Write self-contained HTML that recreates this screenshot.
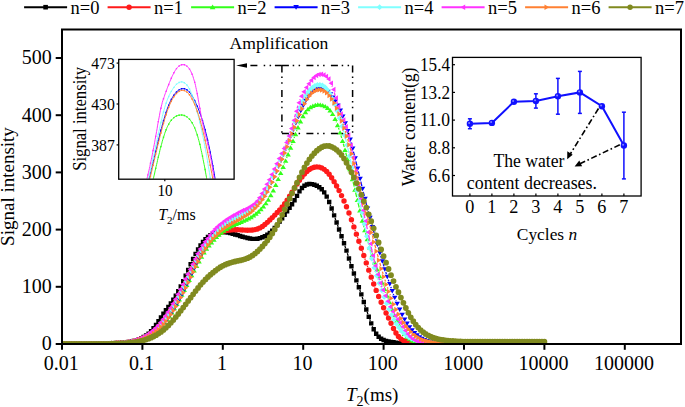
<!DOCTYPE html>
<html><head><meta charset="utf-8"><style>
html,body{margin:0;padding:0;background:#fff;overflow:hidden;width:685px;height:407px;}
svg{display:block;font-family:"Liberation Serif",serif;}
</style></head><body>
<svg width="685" height="407" viewBox="0 0 685 407">
<rect width="685" height="407" fill="#fff"/>
<g><line x1="24.1" y1="7.2" x2="67.1" y2="7.2" stroke="#000000" stroke-width="2"/><rect x="43.3" y="4.9" width="4.6" height="4.6" fill="#000000"/><text x="70.6" y="14" font-size="18.5">n=0</text><line x1="107.6" y1="7.2" x2="150.6" y2="7.2" stroke="#ff1a1a" stroke-width="2"/><circle cx="129.1" cy="7.2" r="2.7" fill="#ff1a1a"/><text x="154.1" y="14" font-size="18.5">n=1</text><line x1="191.1" y1="7.2" x2="234.1" y2="7.2" stroke="#33ff1a" stroke-width="2"/><path d="M212.6 4.6L215.4 9.3L209.8 9.3z" fill="#33ff1a"/><text x="237.6" y="14" font-size="18.5">n=2</text><line x1="274.6" y1="7.2" x2="317.6" y2="7.2" stroke="#0000ff" stroke-width="2"/><path d="M296.1 9.8L298.9 5.1L293.3 5.1z" fill="#0000ff"/><text x="321.1" y="14" font-size="18.5">n=3</text><line x1="358.1" y1="7.2" x2="401.1" y2="7.2" stroke="#80ffff" stroke-width="2"/><path d="M379.6 4.3L382.5 7.2L379.6 10.1L376.7 7.2z" fill="#80ffff"/><text x="404.6" y="14" font-size="18.5">n=4</text><line x1="441.6" y1="7.2" x2="484.6" y2="7.2" stroke="#ff33ff" stroke-width="2"/><path d="M460.5 7.2L465.2 4.4L465.2 10.0z" fill="#ff33ff"/><text x="488.1" y="14" font-size="18.5">n=5</text><line x1="525.1" y1="7.2" x2="568.1" y2="7.2" stroke="#ff8033" stroke-width="2"/><path d="M549.2 7.2L544.5 4.4L544.5 10.0z" fill="#ff8033"/><text x="571.6" y="14" font-size="18.5">n=6</text><line x1="608.6" y1="7.2" x2="651.6" y2="7.2" stroke="#808a1f" stroke-width="2"/><circle cx="630.1" cy="7.2" r="2.7" fill="#808a1f"/><text x="655.1" y="14" font-size="18.5">n=7</text></g>
<defs><clipPath id="cm"><rect x="63" y="30.5" width="617" height="312.5"/></clipPath>
<clipPath id="ci"><rect x="119.3" y="60" width="114.3" height="118.7"/></clipPath></defs>
<g clip-path="url(#cm)"><path d="M181.90 284.06L182.07 283.70M184.31 278.79L184.60 278.12M186.75 273.16L187.11 272.33M189.24 267.37L189.56 266.63M191.78 261.71L191.98 261.28M327.81 199.04L328.06 199.59M330.14 204.57L330.68 205.97M332.56 211.03L333.22 212.88M335.02 217.97L335.70 219.92M337.50 225.01L338.17 226.88M339.99 231.97L340.63 233.76M342.45 238.84L343.12 240.74M344.88 245.84L345.63 248.10M347.31 253.23L348.15 255.87M349.79 261.02L350.62 263.62M352.30 268.75L353.05 270.96M354.83 276.06L355.48 277.87M357.31 282.95L357.94 284.67M359.74 289.77L360.46 291.86M362.17 296.98L362.97 299.42M364.65 304.55L365.44 306.94M367.16 312.06L367.88 314.13M369.69 319.22L370.30 320.86M372.27 325.88L372.66 326.80" fill="none" stroke="#000000" stroke-width="1.3"/><path d="M59.80 341.80h4.40v4.40h-4.40zM62.27 341.80h4.40v4.40h-4.40zM64.75 341.80h4.40v4.40h-4.40zM67.22 341.80h4.40v4.40h-4.40zM69.70 341.80h4.40v4.40h-4.40zM72.17 341.80h4.40v4.40h-4.40zM74.64 341.80h4.40v4.40h-4.40zM77.12 341.80h4.40v4.40h-4.40zM79.59 341.80h4.40v4.40h-4.40zM82.06 341.80h4.40v4.40h-4.40zM84.54 341.80h4.40v4.40h-4.40zM87.01 341.80h4.40v4.40h-4.40zM89.49 341.80h4.40v4.40h-4.40zM91.96 341.80h4.40v4.40h-4.40zM94.43 341.80h4.40v4.40h-4.40zM96.91 341.80h4.40v4.40h-4.40zM99.38 341.66h4.40v4.40h-4.40zM101.86 341.52h4.40v4.40h-4.40zM104.33 341.38h4.40v4.40h-4.40zM106.80 341.24h4.40v4.40h-4.40zM109.28 341.09h4.40v4.40h-4.40zM111.75 340.94h4.40v4.40h-4.40zM114.22 340.79h4.40v4.40h-4.40zM116.70 340.64h4.40v4.40h-4.40zM119.17 340.47h4.40v4.40h-4.40zM121.65 340.28h4.40v4.40h-4.40zM124.12 340.02h4.40v4.40h-4.40zM126.59 339.70h4.40v4.40h-4.40zM129.07 339.27h4.40v4.40h-4.40zM131.54 338.72h4.40v4.40h-4.40zM134.02 338.03h4.40v4.40h-4.40zM136.49 337.18h4.40v4.40h-4.40zM138.96 336.14h4.40v4.40h-4.40zM141.44 334.87h4.40v4.40h-4.40zM143.91 333.31h4.40v4.40h-4.40zM146.38 331.38h4.40v4.40h-4.40zM148.86 328.97h4.40v4.40h-4.40zM151.33 326.07h4.40v4.40h-4.40zM153.81 322.74h4.40v4.40h-4.40zM156.28 319.08h4.40v4.40h-4.40zM158.75 315.27h4.40v4.40h-4.40zM161.23 311.55h4.40v4.40h-4.40zM163.70 308.04h4.40v4.40h-4.40zM166.18 304.64h4.40v4.40h-4.40zM168.65 301.17h4.40v4.40h-4.40zM171.12 297.46h4.40v4.40h-4.40zM173.60 293.46h4.40v4.40h-4.40zM176.07 289.10h4.40v4.40h-4.40zM178.54 284.30h4.40v4.40h-4.40zM181.02 279.06h4.40v4.40h-4.40zM183.49 273.44h4.40v4.40h-4.40zM185.97 267.64h4.40v4.40h-4.40zM188.44 261.96h4.40v4.40h-4.40zM190.91 256.63h4.40v4.40h-4.40zM193.39 251.71h4.40v4.40h-4.40zM195.86 247.22h4.40v4.40h-4.40zM198.34 243.23h4.40v4.40h-4.40zM200.81 239.81h4.40v4.40h-4.40zM203.28 236.97h4.40v4.40h-4.40zM205.76 234.71h4.40v4.40h-4.40zM208.23 232.97h4.40v4.40h-4.40zM210.70 231.68h4.40v4.40h-4.40zM213.18 230.80h4.40v4.40h-4.40zM215.65 230.25h4.40v4.40h-4.40zM218.13 229.98h4.40v4.40h-4.40zM220.60 229.95h4.40v4.40h-4.40zM223.07 230.12h4.40v4.40h-4.40zM225.55 230.47h4.40v4.40h-4.40zM228.02 230.95h4.40v4.40h-4.40zM230.50 231.55h4.40v4.40h-4.40zM232.97 232.23h4.40v4.40h-4.40zM235.44 232.96h4.40v4.40h-4.40zM237.92 233.73h4.40v4.40h-4.40zM240.39 234.49h4.40v4.40h-4.40zM242.86 235.22h4.40v4.40h-4.40zM245.34 235.87h4.40v4.40h-4.40zM247.81 236.37h4.40v4.40h-4.40zM250.29 236.67h4.40v4.40h-4.40zM252.76 236.72h4.40v4.40h-4.40zM255.23 236.48h4.40v4.40h-4.40zM257.71 235.95h4.40v4.40h-4.40zM260.18 235.12h4.40v4.40h-4.40zM262.66 233.99h4.40v4.40h-4.40zM265.13 232.53h4.40v4.40h-4.40zM267.60 230.70h4.40v4.40h-4.40zM270.08 228.45h4.40v4.40h-4.40zM272.55 225.79h4.40v4.40h-4.40zM275.02 222.74h4.40v4.40h-4.40zM277.50 219.43h4.40v4.40h-4.40zM279.97 216.02h4.40v4.40h-4.40zM282.45 212.62h4.40v4.40h-4.40zM284.92 209.19h4.40v4.40h-4.40zM287.39 205.70h4.40v4.40h-4.40zM289.87 202.04h4.40v4.40h-4.40zM292.34 198.08h4.40v4.40h-4.40zM294.82 193.66h4.40v4.40h-4.40zM297.29 189.22h4.40v4.40h-4.40zM299.76 185.80h4.40v4.40h-4.40zM302.24 183.57h4.40v4.40h-4.40zM304.71 182.31h4.40v4.40h-4.40zM307.18 181.85h4.40v4.40h-4.40zM309.66 181.97h4.40v4.40h-4.40zM312.13 182.56h4.40v4.40h-4.40zM314.61 183.54h4.40v4.40h-4.40zM317.08 185.00h4.40v4.40h-4.40zM319.55 187.12h4.40v4.40h-4.40zM322.03 190.17h4.40v4.40h-4.40zM324.50 194.38h4.40v4.40h-4.40zM326.98 199.85h4.40v4.40h-4.40zM329.45 206.29h4.40v4.40h-4.40zM331.92 213.22h4.40v4.40h-4.40zM334.40 220.27h4.40v4.40h-4.40zM336.87 227.23h4.40v4.40h-4.40zM339.34 234.10h4.40v4.40h-4.40zM341.82 241.08h4.40v4.40h-4.40zM344.29 248.46h4.40v4.40h-4.40zM346.77 256.24h4.40v4.40h-4.40zM349.24 263.99h4.40v4.40h-4.40zM351.71 271.32h4.40v4.40h-4.40zM354.19 278.21h4.40v4.40h-4.40zM356.66 285.01h4.40v4.40h-4.40zM359.14 292.22h4.40v4.40h-4.40zM361.61 299.78h4.40v4.40h-4.40zM364.08 307.30h4.40v4.40h-4.40zM366.56 314.49h4.40v4.40h-4.40zM369.03 321.19h4.40v4.40h-4.40zM371.50 327.09h4.40v4.40h-4.40zM373.98 331.57h4.40v4.40h-4.40zM376.45 334.62h4.40v4.40h-4.40zM378.93 336.61h4.40v4.40h-4.40zM381.40 337.87h4.40v4.40h-4.40zM383.87 338.64h4.40v4.40h-4.40zM386.35 339.19h4.40v4.40h-4.40zM388.82 339.66h4.40v4.40h-4.40zM391.30 340.07h4.40v4.40h-4.40zM393.77 340.49h4.40v4.40h-4.40zM396.24 340.88h4.40v4.40h-4.40zM398.72 341.20h4.40v4.40h-4.40zM401.19 341.46h4.40v4.40h-4.40zM403.66 341.68h4.40v4.40h-4.40zM406.14 341.80h4.40v4.40h-4.40zM408.61 341.80h4.40v4.40h-4.40zM411.09 341.80h4.40v4.40h-4.40zM413.56 341.80h4.40v4.40h-4.40zM416.03 341.80h4.40v4.40h-4.40zM418.51 341.80h4.40v4.40h-4.40zM420.98 341.80h4.40v4.40h-4.40zM423.46 341.80h4.40v4.40h-4.40zM425.93 341.80h4.40v4.40h-4.40zM428.40 341.80h4.40v4.40h-4.40zM430.88 341.80h4.40v4.40h-4.40zM433.35 341.80h4.40v4.40h-4.40zM435.82 341.80h4.40v4.40h-4.40zM438.30 341.80h4.40v4.40h-4.40zM440.77 341.80h4.40v4.40h-4.40zM443.25 341.80h4.40v4.40h-4.40zM445.72 341.80h4.40v4.40h-4.40zM448.19 341.80h4.40v4.40h-4.40zM450.67 341.80h4.40v4.40h-4.40zM453.14 341.80h4.40v4.40h-4.40zM455.62 341.80h4.40v4.40h-4.40zM458.09 341.80h4.40v4.40h-4.40zM460.56 341.80h4.40v4.40h-4.40zM463.04 341.80h4.40v4.40h-4.40zM465.51 341.80h4.40v4.40h-4.40zM467.98 341.80h4.40v4.40h-4.40zM470.46 341.80h4.40v4.40h-4.40zM472.93 341.80h4.40v4.40h-4.40zM475.41 341.80h4.40v4.40h-4.40zM477.88 341.80h4.40v4.40h-4.40zM480.35 341.80h4.40v4.40h-4.40zM482.83 341.80h4.40v4.40h-4.40zM485.30 341.80h4.40v4.40h-4.40zM487.78 341.80h4.40v4.40h-4.40zM490.25 341.80h4.40v4.40h-4.40zM492.72 341.80h4.40v4.40h-4.40zM495.20 341.80h4.40v4.40h-4.40zM497.67 341.80h4.40v4.40h-4.40zM500.14 341.80h4.40v4.40h-4.40zM502.62 341.80h4.40v4.40h-4.40zM505.09 341.80h4.40v4.40h-4.40zM507.57 341.80h4.40v4.40h-4.40zM510.04 341.80h4.40v4.40h-4.40zM512.51 341.80h4.40v4.40h-4.40zM514.99 341.80h4.40v4.40h-4.40zM517.46 341.80h4.40v4.40h-4.40zM519.94 341.80h4.40v4.40h-4.40zM522.41 341.80h4.40v4.40h-4.40zM524.88 341.80h4.40v4.40h-4.40zM527.36 341.80h4.40v4.40h-4.40zM529.83 341.80h4.40v4.40h-4.40zM532.30 341.80h4.40v4.40h-4.40zM534.78 341.80h4.40v4.40h-4.40zM537.25 341.80h4.40v4.40h-4.40zM539.73 341.80h4.40v4.40h-4.40zM542.20 341.80h4.40v4.40h-4.40z" fill="#000000"/><path d="M347.65 209.73L347.81 210.13M350.05 216.01L350.35 216.82M352.47 222.75L352.88 223.92M354.93 229.88L355.37 231.17M357.42 237.12L357.83 238.29M359.90 244.24L360.29 245.35M362.36 251.30L362.79 252.55M364.81 258.52L365.28 259.91M367.30 265.87L367.74 267.16M369.80 273.11L370.18 274.18M372.31 280.11L372.62 280.96M374.83 286.86L375.05 287.45" fill="none" stroke="#ff1a1a" stroke-width="1.3"/><path d="M59.30 344.00a2.7 2.7 0 1 0 5.4 0a2.7 2.7 0 1 0 -5.4 0zM61.77 344.00a2.7 2.7 0 1 0 5.4 0a2.7 2.7 0 1 0 -5.4 0zM64.25 344.00a2.7 2.7 0 1 0 5.4 0a2.7 2.7 0 1 0 -5.4 0zM66.72 344.00a2.7 2.7 0 1 0 5.4 0a2.7 2.7 0 1 0 -5.4 0zM69.20 344.00a2.7 2.7 0 1 0 5.4 0a2.7 2.7 0 1 0 -5.4 0zM71.67 344.00a2.7 2.7 0 1 0 5.4 0a2.7 2.7 0 1 0 -5.4 0zM74.14 344.00a2.7 2.7 0 1 0 5.4 0a2.7 2.7 0 1 0 -5.4 0zM76.62 344.00a2.7 2.7 0 1 0 5.4 0a2.7 2.7 0 1 0 -5.4 0zM79.09 344.00a2.7 2.7 0 1 0 5.4 0a2.7 2.7 0 1 0 -5.4 0zM81.56 344.00a2.7 2.7 0 1 0 5.4 0a2.7 2.7 0 1 0 -5.4 0zM84.04 344.00a2.7 2.7 0 1 0 5.4 0a2.7 2.7 0 1 0 -5.4 0zM86.51 344.00a2.7 2.7 0 1 0 5.4 0a2.7 2.7 0 1 0 -5.4 0zM88.99 344.00a2.7 2.7 0 1 0 5.4 0a2.7 2.7 0 1 0 -5.4 0zM91.46 344.00a2.7 2.7 0 1 0 5.4 0a2.7 2.7 0 1 0 -5.4 0zM93.93 344.00a2.7 2.7 0 1 0 5.4 0a2.7 2.7 0 1 0 -5.4 0zM96.41 343.94a2.7 2.7 0 1 0 5.4 0a2.7 2.7 0 1 0 -5.4 0zM98.88 343.85a2.7 2.7 0 1 0 5.4 0a2.7 2.7 0 1 0 -5.4 0zM101.36 343.77a2.7 2.7 0 1 0 5.4 0a2.7 2.7 0 1 0 -5.4 0zM103.83 343.68a2.7 2.7 0 1 0 5.4 0a2.7 2.7 0 1 0 -5.4 0zM106.30 343.59a2.7 2.7 0 1 0 5.4 0a2.7 2.7 0 1 0 -5.4 0zM108.78 343.49a2.7 2.7 0 1 0 5.4 0a2.7 2.7 0 1 0 -5.4 0zM111.25 343.38a2.7 2.7 0 1 0 5.4 0a2.7 2.7 0 1 0 -5.4 0zM113.72 343.26a2.7 2.7 0 1 0 5.4 0a2.7 2.7 0 1 0 -5.4 0zM116.20 343.12a2.7 2.7 0 1 0 5.4 0a2.7 2.7 0 1 0 -5.4 0zM118.67 342.95a2.7 2.7 0 1 0 5.4 0a2.7 2.7 0 1 0 -5.4 0zM121.15 342.75a2.7 2.7 0 1 0 5.4 0a2.7 2.7 0 1 0 -5.4 0zM123.62 342.49a2.7 2.7 0 1 0 5.4 0a2.7 2.7 0 1 0 -5.4 0zM126.09 342.16a2.7 2.7 0 1 0 5.4 0a2.7 2.7 0 1 0 -5.4 0zM128.57 341.74a2.7 2.7 0 1 0 5.4 0a2.7 2.7 0 1 0 -5.4 0zM131.04 341.23a2.7 2.7 0 1 0 5.4 0a2.7 2.7 0 1 0 -5.4 0zM133.52 340.60a2.7 2.7 0 1 0 5.4 0a2.7 2.7 0 1 0 -5.4 0zM135.99 339.83a2.7 2.7 0 1 0 5.4 0a2.7 2.7 0 1 0 -5.4 0zM138.46 338.92a2.7 2.7 0 1 0 5.4 0a2.7 2.7 0 1 0 -5.4 0zM140.94 337.85a2.7 2.7 0 1 0 5.4 0a2.7 2.7 0 1 0 -5.4 0zM143.41 336.61a2.7 2.7 0 1 0 5.4 0a2.7 2.7 0 1 0 -5.4 0zM145.88 335.16a2.7 2.7 0 1 0 5.4 0a2.7 2.7 0 1 0 -5.4 0zM148.36 333.50a2.7 2.7 0 1 0 5.4 0a2.7 2.7 0 1 0 -5.4 0zM150.83 331.61a2.7 2.7 0 1 0 5.4 0a2.7 2.7 0 1 0 -5.4 0zM153.31 329.47a2.7 2.7 0 1 0 5.4 0a2.7 2.7 0 1 0 -5.4 0zM155.78 327.06a2.7 2.7 0 1 0 5.4 0a2.7 2.7 0 1 0 -5.4 0zM158.25 324.37a2.7 2.7 0 1 0 5.4 0a2.7 2.7 0 1 0 -5.4 0zM160.73 321.40a2.7 2.7 0 1 0 5.4 0a2.7 2.7 0 1 0 -5.4 0zM163.20 318.13a2.7 2.7 0 1 0 5.4 0a2.7 2.7 0 1 0 -5.4 0zM165.68 314.57a2.7 2.7 0 1 0 5.4 0a2.7 2.7 0 1 0 -5.4 0zM168.15 310.71a2.7 2.7 0 1 0 5.4 0a2.7 2.7 0 1 0 -5.4 0zM170.62 306.57a2.7 2.7 0 1 0 5.4 0a2.7 2.7 0 1 0 -5.4 0zM173.10 302.19a2.7 2.7 0 1 0 5.4 0a2.7 2.7 0 1 0 -5.4 0zM175.57 297.57a2.7 2.7 0 1 0 5.4 0a2.7 2.7 0 1 0 -5.4 0zM178.04 292.77a2.7 2.7 0 1 0 5.4 0a2.7 2.7 0 1 0 -5.4 0zM180.52 287.81a2.7 2.7 0 1 0 5.4 0a2.7 2.7 0 1 0 -5.4 0zM182.99 282.73a2.7 2.7 0 1 0 5.4 0a2.7 2.7 0 1 0 -5.4 0zM185.47 277.60a2.7 2.7 0 1 0 5.4 0a2.7 2.7 0 1 0 -5.4 0zM187.94 272.47a2.7 2.7 0 1 0 5.4 0a2.7 2.7 0 1 0 -5.4 0zM190.41 267.45a2.7 2.7 0 1 0 5.4 0a2.7 2.7 0 1 0 -5.4 0zM192.89 262.66a2.7 2.7 0 1 0 5.4 0a2.7 2.7 0 1 0 -5.4 0zM195.36 258.16a2.7 2.7 0 1 0 5.4 0a2.7 2.7 0 1 0 -5.4 0zM197.84 254.00a2.7 2.7 0 1 0 5.4 0a2.7 2.7 0 1 0 -5.4 0zM200.31 250.17a2.7 2.7 0 1 0 5.4 0a2.7 2.7 0 1 0 -5.4 0zM202.78 246.66a2.7 2.7 0 1 0 5.4 0a2.7 2.7 0 1 0 -5.4 0zM205.26 243.49a2.7 2.7 0 1 0 5.4 0a2.7 2.7 0 1 0 -5.4 0zM207.73 240.64a2.7 2.7 0 1 0 5.4 0a2.7 2.7 0 1 0 -5.4 0zM210.20 238.12a2.7 2.7 0 1 0 5.4 0a2.7 2.7 0 1 0 -5.4 0zM212.68 235.93a2.7 2.7 0 1 0 5.4 0a2.7 2.7 0 1 0 -5.4 0zM215.15 234.07a2.7 2.7 0 1 0 5.4 0a2.7 2.7 0 1 0 -5.4 0zM217.63 232.57a2.7 2.7 0 1 0 5.4 0a2.7 2.7 0 1 0 -5.4 0zM220.10 231.46a2.7 2.7 0 1 0 5.4 0a2.7 2.7 0 1 0 -5.4 0zM222.57 230.72a2.7 2.7 0 1 0 5.4 0a2.7 2.7 0 1 0 -5.4 0zM225.05 230.28a2.7 2.7 0 1 0 5.4 0a2.7 2.7 0 1 0 -5.4 0zM227.52 230.02a2.7 2.7 0 1 0 5.4 0a2.7 2.7 0 1 0 -5.4 0zM230.00 229.86a2.7 2.7 0 1 0 5.4 0a2.7 2.7 0 1 0 -5.4 0zM232.47 229.80a2.7 2.7 0 1 0 5.4 0a2.7 2.7 0 1 0 -5.4 0zM234.94 229.80a2.7 2.7 0 1 0 5.4 0a2.7 2.7 0 1 0 -5.4 0zM237.42 229.86a2.7 2.7 0 1 0 5.4 0a2.7 2.7 0 1 0 -5.4 0zM239.89 229.97a2.7 2.7 0 1 0 5.4 0a2.7 2.7 0 1 0 -5.4 0zM242.36 230.09a2.7 2.7 0 1 0 5.4 0a2.7 2.7 0 1 0 -5.4 0zM244.84 230.18a2.7 2.7 0 1 0 5.4 0a2.7 2.7 0 1 0 -5.4 0zM247.31 230.17a2.7 2.7 0 1 0 5.4 0a2.7 2.7 0 1 0 -5.4 0zM249.79 230.00a2.7 2.7 0 1 0 5.4 0a2.7 2.7 0 1 0 -5.4 0zM252.26 229.61a2.7 2.7 0 1 0 5.4 0a2.7 2.7 0 1 0 -5.4 0zM254.73 228.94a2.7 2.7 0 1 0 5.4 0a2.7 2.7 0 1 0 -5.4 0zM257.21 227.90a2.7 2.7 0 1 0 5.4 0a2.7 2.7 0 1 0 -5.4 0zM259.68 226.42a2.7 2.7 0 1 0 5.4 0a2.7 2.7 0 1 0 -5.4 0zM262.16 224.53a2.7 2.7 0 1 0 5.4 0a2.7 2.7 0 1 0 -5.4 0zM264.63 222.34a2.7 2.7 0 1 0 5.4 0a2.7 2.7 0 1 0 -5.4 0zM267.10 220.01a2.7 2.7 0 1 0 5.4 0a2.7 2.7 0 1 0 -5.4 0zM269.58 217.59a2.7 2.7 0 1 0 5.4 0a2.7 2.7 0 1 0 -5.4 0zM272.05 215.09a2.7 2.7 0 1 0 5.4 0a2.7 2.7 0 1 0 -5.4 0zM274.52 212.52a2.7 2.7 0 1 0 5.4 0a2.7 2.7 0 1 0 -5.4 0zM277.00 209.85a2.7 2.7 0 1 0 5.4 0a2.7 2.7 0 1 0 -5.4 0zM279.47 206.98a2.7 2.7 0 1 0 5.4 0a2.7 2.7 0 1 0 -5.4 0zM281.95 203.78a2.7 2.7 0 1 0 5.4 0a2.7 2.7 0 1 0 -5.4 0zM284.42 200.19a2.7 2.7 0 1 0 5.4 0a2.7 2.7 0 1 0 -5.4 0zM286.89 196.29a2.7 2.7 0 1 0 5.4 0a2.7 2.7 0 1 0 -5.4 0zM289.37 192.18a2.7 2.7 0 1 0 5.4 0a2.7 2.7 0 1 0 -5.4 0zM291.84 187.99a2.7 2.7 0 1 0 5.4 0a2.7 2.7 0 1 0 -5.4 0zM294.32 183.96a2.7 2.7 0 1 0 5.4 0a2.7 2.7 0 1 0 -5.4 0zM296.79 180.25a2.7 2.7 0 1 0 5.4 0a2.7 2.7 0 1 0 -5.4 0zM299.26 176.94a2.7 2.7 0 1 0 5.4 0a2.7 2.7 0 1 0 -5.4 0zM301.74 174.04a2.7 2.7 0 1 0 5.4 0a2.7 2.7 0 1 0 -5.4 0zM304.21 171.57a2.7 2.7 0 1 0 5.4 0a2.7 2.7 0 1 0 -5.4 0zM306.68 169.57a2.7 2.7 0 1 0 5.4 0a2.7 2.7 0 1 0 -5.4 0zM309.16 168.10a2.7 2.7 0 1 0 5.4 0a2.7 2.7 0 1 0 -5.4 0zM311.63 167.19a2.7 2.7 0 1 0 5.4 0a2.7 2.7 0 1 0 -5.4 0zM314.11 166.85a2.7 2.7 0 1 0 5.4 0a2.7 2.7 0 1 0 -5.4 0zM316.58 167.09a2.7 2.7 0 1 0 5.4 0a2.7 2.7 0 1 0 -5.4 0zM319.05 167.91a2.7 2.7 0 1 0 5.4 0a2.7 2.7 0 1 0 -5.4 0zM321.53 169.33a2.7 2.7 0 1 0 5.4 0a2.7 2.7 0 1 0 -5.4 0zM324.00 171.45a2.7 2.7 0 1 0 5.4 0a2.7 2.7 0 1 0 -5.4 0zM326.48 174.32a2.7 2.7 0 1 0 5.4 0a2.7 2.7 0 1 0 -5.4 0zM328.95 177.75a2.7 2.7 0 1 0 5.4 0a2.7 2.7 0 1 0 -5.4 0zM331.42 181.65a2.7 2.7 0 1 0 5.4 0a2.7 2.7 0 1 0 -5.4 0zM333.90 185.94a2.7 2.7 0 1 0 5.4 0a2.7 2.7 0 1 0 -5.4 0zM336.37 190.59a2.7 2.7 0 1 0 5.4 0a2.7 2.7 0 1 0 -5.4 0zM338.84 195.60a2.7 2.7 0 1 0 5.4 0a2.7 2.7 0 1 0 -5.4 0zM341.32 200.99a2.7 2.7 0 1 0 5.4 0a2.7 2.7 0 1 0 -5.4 0zM343.79 206.80a2.7 2.7 0 1 0 5.4 0a2.7 2.7 0 1 0 -5.4 0zM346.27 213.05a2.7 2.7 0 1 0 5.4 0a2.7 2.7 0 1 0 -5.4 0zM348.74 219.78a2.7 2.7 0 1 0 5.4 0a2.7 2.7 0 1 0 -5.4 0zM351.21 226.90a2.7 2.7 0 1 0 5.4 0a2.7 2.7 0 1 0 -5.4 0zM353.69 234.15a2.7 2.7 0 1 0 5.4 0a2.7 2.7 0 1 0 -5.4 0zM356.16 241.27a2.7 2.7 0 1 0 5.4 0a2.7 2.7 0 1 0 -5.4 0zM358.64 248.32a2.7 2.7 0 1 0 5.4 0a2.7 2.7 0 1 0 -5.4 0zM361.11 255.53a2.7 2.7 0 1 0 5.4 0a2.7 2.7 0 1 0 -5.4 0zM363.58 262.89a2.7 2.7 0 1 0 5.4 0a2.7 2.7 0 1 0 -5.4 0zM366.06 270.14a2.7 2.7 0 1 0 5.4 0a2.7 2.7 0 1 0 -5.4 0zM368.53 277.15a2.7 2.7 0 1 0 5.4 0a2.7 2.7 0 1 0 -5.4 0zM371.00 283.92a2.7 2.7 0 1 0 5.4 0a2.7 2.7 0 1 0 -5.4 0zM373.48 290.40a2.7 2.7 0 1 0 5.4 0a2.7 2.7 0 1 0 -5.4 0zM375.95 296.51a2.7 2.7 0 1 0 5.4 0a2.7 2.7 0 1 0 -5.4 0zM378.43 302.31a2.7 2.7 0 1 0 5.4 0a2.7 2.7 0 1 0 -5.4 0zM380.90 307.77a2.7 2.7 0 1 0 5.4 0a2.7 2.7 0 1 0 -5.4 0zM383.37 312.99a2.7 2.7 0 1 0 5.4 0a2.7 2.7 0 1 0 -5.4 0zM385.85 318.07a2.7 2.7 0 1 0 5.4 0a2.7 2.7 0 1 0 -5.4 0zM388.32 323.25a2.7 2.7 0 1 0 5.4 0a2.7 2.7 0 1 0 -5.4 0zM390.80 328.49a2.7 2.7 0 1 0 5.4 0a2.7 2.7 0 1 0 -5.4 0zM393.27 333.04a2.7 2.7 0 1 0 5.4 0a2.7 2.7 0 1 0 -5.4 0zM395.74 336.48a2.7 2.7 0 1 0 5.4 0a2.7 2.7 0 1 0 -5.4 0zM398.22 338.86a2.7 2.7 0 1 0 5.4 0a2.7 2.7 0 1 0 -5.4 0zM400.69 340.40a2.7 2.7 0 1 0 5.4 0a2.7 2.7 0 1 0 -5.4 0zM403.16 341.35a2.7 2.7 0 1 0 5.4 0a2.7 2.7 0 1 0 -5.4 0zM405.64 341.96a2.7 2.7 0 1 0 5.4 0a2.7 2.7 0 1 0 -5.4 0zM408.11 342.44a2.7 2.7 0 1 0 5.4 0a2.7 2.7 0 1 0 -5.4 0zM410.59 342.82a2.7 2.7 0 1 0 5.4 0a2.7 2.7 0 1 0 -5.4 0zM413.06 343.13a2.7 2.7 0 1 0 5.4 0a2.7 2.7 0 1 0 -5.4 0zM415.53 343.36a2.7 2.7 0 1 0 5.4 0a2.7 2.7 0 1 0 -5.4 0zM418.01 343.54a2.7 2.7 0 1 0 5.4 0a2.7 2.7 0 1 0 -5.4 0zM420.48 343.70a2.7 2.7 0 1 0 5.4 0a2.7 2.7 0 1 0 -5.4 0zM422.96 343.71a2.7 2.7 0 1 0 5.4 0a2.7 2.7 0 1 0 -5.4 0zM425.43 343.71a2.7 2.7 0 1 0 5.4 0a2.7 2.7 0 1 0 -5.4 0zM427.90 343.71a2.7 2.7 0 1 0 5.4 0a2.7 2.7 0 1 0 -5.4 0zM430.38 343.71a2.7 2.7 0 1 0 5.4 0a2.7 2.7 0 1 0 -5.4 0zM432.85 343.71a2.7 2.7 0 1 0 5.4 0a2.7 2.7 0 1 0 -5.4 0zM435.32 343.71a2.7 2.7 0 1 0 5.4 0a2.7 2.7 0 1 0 -5.4 0zM437.80 343.71a2.7 2.7 0 1 0 5.4 0a2.7 2.7 0 1 0 -5.4 0zM440.27 343.71a2.7 2.7 0 1 0 5.4 0a2.7 2.7 0 1 0 -5.4 0zM442.75 343.71a2.7 2.7 0 1 0 5.4 0a2.7 2.7 0 1 0 -5.4 0zM445.22 343.71a2.7 2.7 0 1 0 5.4 0a2.7 2.7 0 1 0 -5.4 0zM447.69 343.71a2.7 2.7 0 1 0 5.4 0a2.7 2.7 0 1 0 -5.4 0zM450.17 343.71a2.7 2.7 0 1 0 5.4 0a2.7 2.7 0 1 0 -5.4 0zM452.64 343.71a2.7 2.7 0 1 0 5.4 0a2.7 2.7 0 1 0 -5.4 0zM455.12 343.71a2.7 2.7 0 1 0 5.4 0a2.7 2.7 0 1 0 -5.4 0zM457.59 343.71a2.7 2.7 0 1 0 5.4 0a2.7 2.7 0 1 0 -5.4 0zM460.06 343.71a2.7 2.7 0 1 0 5.4 0a2.7 2.7 0 1 0 -5.4 0zM462.54 343.71a2.7 2.7 0 1 0 5.4 0a2.7 2.7 0 1 0 -5.4 0zM465.01 343.71a2.7 2.7 0 1 0 5.4 0a2.7 2.7 0 1 0 -5.4 0zM467.48 343.71a2.7 2.7 0 1 0 5.4 0a2.7 2.7 0 1 0 -5.4 0zM469.96 343.71a2.7 2.7 0 1 0 5.4 0a2.7 2.7 0 1 0 -5.4 0zM472.43 343.71a2.7 2.7 0 1 0 5.4 0a2.7 2.7 0 1 0 -5.4 0zM474.91 343.71a2.7 2.7 0 1 0 5.4 0a2.7 2.7 0 1 0 -5.4 0zM477.38 343.71a2.7 2.7 0 1 0 5.4 0a2.7 2.7 0 1 0 -5.4 0zM479.85 343.71a2.7 2.7 0 1 0 5.4 0a2.7 2.7 0 1 0 -5.4 0zM482.33 343.71a2.7 2.7 0 1 0 5.4 0a2.7 2.7 0 1 0 -5.4 0zM484.80 343.71a2.7 2.7 0 1 0 5.4 0a2.7 2.7 0 1 0 -5.4 0zM487.28 343.71a2.7 2.7 0 1 0 5.4 0a2.7 2.7 0 1 0 -5.4 0zM489.75 343.71a2.7 2.7 0 1 0 5.4 0a2.7 2.7 0 1 0 -5.4 0zM492.22 343.71a2.7 2.7 0 1 0 5.4 0a2.7 2.7 0 1 0 -5.4 0zM494.70 343.71a2.7 2.7 0 1 0 5.4 0a2.7 2.7 0 1 0 -5.4 0zM497.17 343.71a2.7 2.7 0 1 0 5.4 0a2.7 2.7 0 1 0 -5.4 0zM499.64 343.71a2.7 2.7 0 1 0 5.4 0a2.7 2.7 0 1 0 -5.4 0zM502.12 343.71a2.7 2.7 0 1 0 5.4 0a2.7 2.7 0 1 0 -5.4 0zM504.59 343.71a2.7 2.7 0 1 0 5.4 0a2.7 2.7 0 1 0 -5.4 0zM507.07 343.71a2.7 2.7 0 1 0 5.4 0a2.7 2.7 0 1 0 -5.4 0zM509.54 343.71a2.7 2.7 0 1 0 5.4 0a2.7 2.7 0 1 0 -5.4 0zM512.01 343.71a2.7 2.7 0 1 0 5.4 0a2.7 2.7 0 1 0 -5.4 0zM514.49 343.71a2.7 2.7 0 1 0 5.4 0a2.7 2.7 0 1 0 -5.4 0zM516.96 343.71a2.7 2.7 0 1 0 5.4 0a2.7 2.7 0 1 0 -5.4 0zM519.44 343.71a2.7 2.7 0 1 0 5.4 0a2.7 2.7 0 1 0 -5.4 0zM521.91 343.71a2.7 2.7 0 1 0 5.4 0a2.7 2.7 0 1 0 -5.4 0zM524.38 343.71a2.7 2.7 0 1 0 5.4 0a2.7 2.7 0 1 0 -5.4 0zM526.86 343.71a2.7 2.7 0 1 0 5.4 0a2.7 2.7 0 1 0 -5.4 0zM529.33 343.71a2.7 2.7 0 1 0 5.4 0a2.7 2.7 0 1 0 -5.4 0zM531.80 343.71a2.7 2.7 0 1 0 5.4 0a2.7 2.7 0 1 0 -5.4 0zM534.28 343.71a2.7 2.7 0 1 0 5.4 0a2.7 2.7 0 1 0 -5.4 0zM536.75 343.71a2.7 2.7 0 1 0 5.4 0a2.7 2.7 0 1 0 -5.4 0zM539.23 343.71a2.7 2.7 0 1 0 5.4 0a2.7 2.7 0 1 0 -5.4 0zM541.70 343.71a2.7 2.7 0 1 0 5.4 0a2.7 2.7 0 1 0 -5.4 0z" fill="#ff1a1a"/><path d="M276.91 182.07L277.04 181.76M279.36 176.23L279.54 175.78M281.82 170.23L282.03 169.72M284.27 164.16L284.53 163.51M286.71 157.93L287.03 157.11M289.16 151.50L289.53 150.50M291.61 144.87L292.03 143.72M294.07 138.08L294.51 136.85M296.58 131.22L296.96 130.19M299.14 124.60L299.35 124.09M336.22 121.58L336.48 122.25M338.53 127.89L339.12 129.66M340.91 135.38L341.68 138.00M343.33 143.76L344.21 146.94M345.77 152.73L346.72 156.34M348.22 162.15L349.22 166.12M350.66 171.94L351.72 176.31M353.13 182.14L354.21 186.68M355.60 192.52L356.68 197.10M358.07 202.94L359.16 207.51M360.56 213.35L361.61 217.66M363.08 223.48L364.05 227.23M365.60 233.03L366.48 236.22M368.13 241.99L368.89 244.56M370.66 250.29L371.31 252.33M373.18 258.03L373.73 259.67M375.70 265.34L376.16 266.65M378.21 272.29L378.60 273.32M380.72 278.94L381.04 279.79M383.19 285.39L383.51 286.21M385.65 291.82L386.00 292.76M388.10 298.38L388.50 299.43M390.59 305.06L390.96 306.05M393.11 311.65L393.38 312.33" fill="none" stroke="#33ff1a" stroke-width="1.3"/><path d="M62.99 341.65L65.74 346.10L60.24 346.10zM65.46 341.65L68.21 346.10L62.71 346.10zM67.94 341.65L70.69 346.10L65.19 346.10zM70.41 341.65L73.16 346.10L67.66 346.10zM72.88 341.65L75.63 346.10L70.13 346.10zM75.36 341.65L78.11 346.10L72.61 346.10zM77.83 341.65L80.58 346.10L75.08 346.10zM80.31 341.65L83.06 346.10L77.56 346.10zM82.78 341.65L85.53 346.10L80.03 346.10zM85.25 341.65L88.00 346.10L82.50 346.10zM87.73 341.65L90.48 346.10L84.98 346.10zM90.20 341.65L92.95 346.10L87.45 346.10zM92.68 341.65L95.43 346.10L89.93 346.10zM95.15 341.65L97.90 346.10L92.40 346.10zM97.62 341.59L100.37 346.04L94.87 346.04zM100.10 341.54L102.85 345.99L97.35 345.99zM102.57 341.48L105.32 345.93L99.82 345.93zM105.04 341.43L107.79 345.88L102.29 345.88zM107.52 341.37L110.27 345.82L104.77 345.82zM109.99 341.31L112.74 345.76L107.24 345.76zM112.47 341.24L115.22 345.69L109.72 345.69zM114.94 341.15L117.69 345.60L112.19 345.60zM117.41 341.04L120.16 345.49L114.66 345.49zM119.89 340.92L122.64 345.37L117.14 345.37zM122.36 340.77L125.11 345.22L119.61 345.22zM124.84 340.57L127.59 345.02L122.09 345.02zM127.31 340.32L130.06 344.77L124.56 344.77zM129.78 340.01L132.53 344.46L127.03 344.46zM132.26 339.62L135.01 344.07L129.51 344.07zM134.73 339.13L137.48 343.58L131.98 343.58zM137.20 338.54L139.95 342.99L134.45 342.99zM139.68 337.83L142.43 342.28L136.93 342.28zM142.15 336.98L144.90 341.43L139.40 341.43zM144.63 335.98L147.38 340.43L141.88 340.43zM147.10 334.80L149.85 339.25L144.35 339.25zM149.57 333.44L152.32 337.89L146.82 337.89zM152.05 331.87L154.80 336.32L149.30 336.32zM154.52 330.08L157.27 334.53L151.77 334.53zM157.00 328.04L159.75 332.49L154.25 332.49zM159.47 325.74L162.22 330.19L156.72 330.19zM161.94 323.16L164.69 327.61L159.19 327.61zM164.42 320.29L167.17 324.74L161.67 324.74zM166.89 317.13L169.64 321.58L164.14 321.58zM169.36 313.68L172.11 318.13L166.61 318.13zM171.84 309.93L174.59 314.38L169.09 314.38zM174.31 305.90L177.06 310.35L171.56 310.35zM176.79 301.60L179.54 306.05L174.04 306.05zM179.26 297.06L182.01 301.51L176.51 301.51zM181.73 292.32L184.48 296.77L178.98 296.77zM184.21 287.45L186.96 291.90L181.46 291.90zM186.68 282.52L189.43 286.97L183.93 286.97zM189.16 277.61L191.91 282.06L186.41 282.06zM191.63 272.81L194.38 277.26L188.88 277.26zM194.10 268.17L196.85 272.62L191.35 272.62zM196.58 263.65L199.33 268.10L193.83 268.10zM199.05 259.07L201.80 263.52L196.30 263.52zM201.52 254.39L204.27 258.84L198.77 258.84zM204.00 250.04L206.75 254.49L201.25 254.49zM206.47 246.28L209.22 250.73L203.72 250.73zM208.95 242.98L211.70 247.43L206.20 247.43zM211.42 239.99L214.17 244.44L208.67 244.44zM213.89 237.22L216.64 241.67L211.14 241.67zM216.37 234.67L219.12 239.12L213.62 239.12zM218.84 232.33L221.59 236.78L216.09 236.78zM221.32 230.21L224.07 234.66L218.57 234.66zM223.79 228.30L226.54 232.75L221.04 232.75zM226.26 226.60L229.01 231.05L223.51 231.05zM228.74 225.09L231.49 229.54L225.99 229.54zM231.21 223.76L233.96 228.21L228.46 228.21zM233.68 222.57L236.43 227.02L230.93 227.02zM236.16 221.47L238.91 225.92L233.41 225.92zM238.63 220.45L241.38 224.90L235.88 224.90zM241.11 219.44L243.86 223.89L238.36 223.89zM243.58 218.42L246.33 222.87L240.83 222.87zM246.05 217.32L248.80 221.77L243.30 221.77zM248.53 216.11L251.28 220.56L245.78 220.56zM251.00 214.74L253.75 219.19L248.25 219.19zM253.48 213.17L256.23 217.62L250.73 217.62zM255.95 211.36L258.70 215.81L253.20 215.81zM258.42 209.27L261.17 213.72L255.67 213.72zM260.90 206.86L263.65 211.31L258.15 211.31zM263.37 204.10L266.12 208.55L260.62 208.55zM265.84 200.90L268.59 205.35L263.09 205.35zM268.32 197.18L271.07 201.63L265.57 201.63zM270.79 192.85L273.54 197.30L268.04 197.30zM273.27 187.93L276.02 192.38L270.52 192.38zM275.74 182.48L278.49 186.93L272.99 186.93zM278.21 176.65L280.96 181.10L275.46 181.10zM280.69 170.66L283.44 175.11L277.94 175.11zM283.16 164.59L285.91 169.04L280.41 169.04zM285.64 158.38L288.39 162.83L282.89 162.83zM288.11 151.96L290.86 156.41L285.36 156.41zM290.58 145.34L293.33 149.79L287.83 149.79zM293.06 138.55L295.81 143.00L290.31 143.00zM295.53 131.68L298.28 136.13L292.78 136.13zM298.00 125.03L300.75 129.48L295.25 129.48zM300.48 118.96L303.23 123.41L297.73 123.41zM302.95 113.80L305.70 118.25L300.20 118.25zM305.43 109.74L308.18 114.19L302.68 114.19zM307.90 106.78L310.65 111.23L305.15 111.23zM310.37 104.76L313.12 109.21L307.62 109.21zM312.85 103.44L315.60 107.89L310.10 107.89zM315.32 102.65L318.07 107.10L312.57 107.10zM317.80 102.33L320.55 106.78L315.05 106.78zM320.27 102.39L323.02 106.84L317.52 106.84zM322.74 102.88L325.49 107.33L319.99 107.33zM325.22 103.91L327.97 108.36L322.47 108.36zM327.69 105.60L330.44 110.05L324.94 110.05zM330.16 108.11L332.91 112.56L327.41 112.56zM332.64 111.63L335.39 116.08L329.89 116.08zM335.11 116.44L337.86 120.89L332.36 120.89zM337.59 122.69L340.34 127.14L334.84 127.14zM340.06 130.16L342.81 134.61L337.31 134.61zM342.53 138.52L345.28 142.97L339.78 142.97zM345.01 147.48L347.76 151.93L342.26 151.93zM347.48 156.89L350.23 161.34L344.73 161.34zM349.96 166.68L352.71 171.13L347.21 171.13zM352.43 176.87L355.18 181.32L349.68 181.32zM354.90 187.25L357.65 191.70L352.15 191.70zM357.38 197.67L360.13 202.12L354.63 202.12zM359.85 208.08L362.60 212.53L357.10 212.53zM362.32 218.23L365.07 222.68L359.57 222.68zM364.80 227.79L367.55 232.24L362.05 232.24zM367.27 236.76L370.02 241.21L364.52 241.21zM369.75 245.08L372.50 249.53L367.00 249.53zM372.22 252.84L374.97 257.29L369.47 257.29zM374.69 260.16L377.44 264.61L371.94 264.61zM377.17 267.12L379.92 271.57L374.42 271.57zM379.64 273.79L382.39 278.24L376.89 278.24zM382.12 280.24L384.87 284.69L379.37 284.69zM384.59 286.66L387.34 291.11L381.84 291.11zM387.06 293.21L389.81 297.66L384.31 297.66zM389.54 299.90L392.29 304.35L386.79 304.35zM392.01 306.51L394.76 310.96L389.26 310.96zM394.48 312.77L397.23 317.22L391.73 317.22zM396.96 318.50L399.71 322.95L394.21 322.95zM399.43 323.56L402.18 328.01L396.68 328.01zM401.91 327.87L404.66 332.32L399.16 332.32zM404.38 331.43L407.13 335.88L401.63 335.88zM406.85 334.24L409.60 338.69L404.10 338.69zM409.33 336.38L412.08 340.83L406.58 340.83zM411.80 337.95L414.55 342.40L409.05 342.40zM414.28 339.05L417.03 343.50L411.53 343.50zM416.75 339.79L419.50 344.24L414.00 344.24zM419.22 340.29L421.97 344.74L416.47 344.74zM421.70 340.62L424.45 345.07L418.95 345.07zM424.17 340.83L426.92 345.28L421.42 345.28zM426.64 340.96L429.39 345.41L423.89 345.41zM429.12 340.96L431.87 345.41L426.37 345.41zM431.59 340.96L434.34 345.41L428.84 345.41zM434.07 340.96L436.82 345.41L431.32 345.41zM436.54 340.96L439.29 345.41L433.79 345.41zM439.01 340.96L441.76 345.41L436.26 345.41zM441.49 340.96L444.24 345.41L438.74 345.41zM443.96 340.96L446.71 345.41L441.21 345.41zM446.44 340.96L449.19 345.41L443.69 345.41zM448.91 340.96L451.66 345.41L446.16 345.41zM451.38 340.96L454.13 345.41L448.63 345.41zM453.86 340.96L456.61 345.41L451.11 345.41zM456.33 340.96L459.08 345.41L453.58 345.41zM458.80 340.96L461.55 345.41L456.05 345.41zM461.28 340.96L464.03 345.41L458.53 345.41zM463.75 340.96L466.50 345.41L461.00 345.41zM466.23 340.96L468.98 345.41L463.48 345.41zM468.70 340.96L471.45 345.41L465.95 345.41zM471.17 340.96L473.92 345.41L468.42 345.41zM473.65 340.96L476.40 345.41L470.90 345.41zM476.12 340.96L478.87 345.41L473.37 345.41zM478.60 340.96L481.35 345.41L475.85 345.41zM481.07 340.96L483.82 345.41L478.32 345.41zM483.54 340.96L486.29 345.41L480.79 345.41zM486.02 340.96L488.77 345.41L483.27 345.41zM488.49 340.96L491.24 345.41L485.74 345.41zM490.96 340.96L493.71 345.41L488.21 345.41zM493.44 340.96L496.19 345.41L490.69 345.41zM495.91 340.96L498.66 345.41L493.16 345.41zM498.39 340.96L501.14 345.41L495.64 345.41zM500.86 340.96L503.61 345.41L498.11 345.41zM503.33 340.96L506.08 345.41L500.58 345.41zM505.81 340.96L508.56 345.41L503.06 345.41zM508.28 340.96L511.03 345.41L505.53 345.41zM510.76 340.96L513.51 345.41L508.01 345.41zM513.23 340.96L515.98 345.41L510.48 345.41zM515.70 340.96L518.45 345.41L512.95 345.41zM518.18 340.96L520.93 345.41L515.43 345.41zM520.65 340.96L523.40 345.41L517.90 345.41zM523.12 340.96L525.87 345.41L520.37 345.41zM525.60 340.96L528.35 345.41L522.85 345.41zM528.07 340.96L530.82 345.41L525.32 345.41zM530.55 340.96L533.30 345.41L527.80 345.41zM533.02 340.96L535.77 345.41L530.27 345.41zM535.49 340.96L538.24 345.41L532.74 345.41zM537.97 340.96L540.72 345.41L535.22 345.41zM540.44 340.96L543.19 345.41L537.69 345.41zM542.92 340.96L545.67 345.41L540.17 345.41z" fill="#33ff1a"/><path d="M279.63 163.74L279.76 163.43M282.10 157.90L282.24 157.56M284.56 152.03L284.73 151.61M287.00 146.05L287.24 145.46M289.44 139.88L289.75 139.08M291.89 133.47L292.24 132.54M294.37 126.93L294.71 126.03M296.87 120.44L297.16 119.71M299.40 114.14L299.57 113.73M341.48 113.39L341.61 113.72M343.81 119.31L344.23 120.47M346.17 126.15L346.82 128.16M348.57 133.90L349.37 136.66M350.98 142.44L351.90 145.82M353.42 151.63L354.41 155.53M355.86 161.35L356.91 165.64M358.33 171.47L359.39 175.88M360.81 181.72L361.86 186.06M363.30 191.88L364.32 195.97M365.79 201.79L366.77 205.58M368.28 211.39L369.23 214.98M370.77 220.78L371.69 224.24M373.27 230.03L374.14 233.18M375.77 238.95L376.58 241.77M378.26 247.53L379.04 250.16M380.75 255.91L381.50 258.41M383.25 264.15L383.95 266.41M385.76 272.13L386.39 274.06M388.27 279.76L388.82 281.37M390.79 287.04L391.25 288.33M393.31 293.96L393.68 294.93M395.85 300.52L396.09 301.12" fill="none" stroke="#0000ff" stroke-width="1.3"/><path d="M63.24 346.35L65.99 341.90L60.49 341.90zM65.71 346.35L68.46 341.90L62.96 341.90zM68.18 346.35L70.93 341.90L65.43 341.90zM70.66 346.35L73.41 341.90L67.91 341.90zM73.13 346.35L75.88 341.90L70.38 341.90zM75.61 346.35L78.36 341.90L72.86 341.90zM78.08 346.35L80.83 341.90L75.33 341.90zM80.55 346.35L83.30 341.90L77.80 341.90zM83.03 346.35L85.78 341.90L80.28 341.90zM85.50 346.35L88.25 341.90L82.75 341.90zM87.98 346.35L90.73 341.90L85.23 341.90zM90.45 346.35L93.20 341.90L87.70 341.90zM92.92 346.35L95.67 341.90L90.17 341.90zM95.40 346.35L98.15 341.90L92.65 341.90zM97.87 346.32L100.62 341.87L95.12 341.87zM100.34 346.24L103.09 341.79L97.59 341.79zM102.82 346.17L105.57 341.72L100.07 341.72zM105.29 346.10L108.04 341.65L102.54 341.65zM107.77 346.02L110.52 341.57L105.02 341.57zM110.24 345.94L112.99 341.49L107.49 341.49zM112.71 345.85L115.46 341.40L109.96 341.40zM115.19 345.75L117.94 341.30L112.44 341.30zM117.66 345.64L120.41 341.19L114.91 341.19zM120.14 345.52L122.89 341.07L117.39 341.07zM122.61 345.37L125.36 340.92L119.86 340.92zM125.08 345.18L127.83 340.73L122.33 340.73zM127.56 344.94L130.31 340.49L124.81 340.49zM130.03 344.64L132.78 340.19L127.28 340.19zM132.50 344.25L135.25 339.80L129.75 339.80zM134.98 343.77L137.73 339.32L132.23 339.32zM137.45 343.17L140.20 338.72L134.70 338.72zM139.93 342.45L142.68 338.00L137.18 338.00zM142.40 341.59L145.15 337.14L139.65 337.14zM144.87 340.57L147.62 336.12L142.12 336.12zM147.35 339.38L150.10 334.93L144.60 334.93zM149.82 337.99L152.57 333.54L147.07 333.54zM152.30 336.40L155.05 331.95L149.55 331.95zM154.77 334.58L157.52 330.13L152.02 330.13zM157.24 332.51L159.99 328.06L154.49 328.06zM159.72 330.18L162.47 325.73L156.97 325.73zM162.19 327.57L164.94 323.12L159.44 323.12zM164.66 324.68L167.41 320.23L161.91 320.23zM167.14 321.49L169.89 317.04L164.39 317.04zM169.61 318.02L172.36 313.57L166.86 313.57zM172.09 314.26L174.84 309.81L169.34 309.81zM174.56 310.23L177.31 305.78L171.81 305.78zM177.03 305.95L179.78 301.50L174.28 301.50zM179.51 301.42L182.26 296.97L176.76 296.97zM181.98 296.68L184.73 292.23L179.23 292.23zM184.46 291.74L187.21 287.29L181.71 287.29zM186.93 286.62L189.68 282.17L184.18 282.17zM189.40 281.34L192.15 276.89L186.65 276.89zM191.88 275.93L194.63 271.48L189.13 271.48zM194.35 270.45L197.10 266.00L191.60 266.00zM196.82 265.04L199.57 260.59L194.07 260.59zM199.30 259.93L202.05 255.48L196.55 255.48zM201.77 255.30L204.52 250.85L199.02 250.85zM204.25 251.15L207.00 246.70L201.50 246.70zM206.72 247.40L209.47 242.95L203.97 242.95zM209.19 244.01L211.94 239.56L206.44 239.56zM211.67 240.92L214.42 236.47L208.92 236.47zM214.14 238.09L216.89 233.64L211.39 233.64zM216.62 235.47L219.37 231.02L213.87 231.02zM219.09 233.03L221.84 228.58L216.34 228.58zM221.56 230.77L224.31 226.32L218.81 226.32zM224.04 228.69L226.79 224.24L221.29 224.24zM226.51 226.80L229.26 222.35L223.76 222.35zM228.98 225.06L231.73 220.61L226.23 220.61zM231.46 223.47L234.21 219.02L228.71 219.02zM233.93 222.02L236.68 217.57L231.18 217.57zM236.41 220.71L239.16 216.26L233.66 216.26zM238.88 219.50L241.63 215.05L236.13 215.05zM241.35 218.35L244.10 213.90L238.60 213.90zM243.83 217.19L246.58 212.74L241.08 212.74zM246.30 215.94L249.05 211.49L243.55 211.49zM248.78 214.51L251.53 210.06L246.03 210.06zM251.25 212.84L254.00 208.39L248.50 208.39zM253.72 210.86L256.47 206.41L250.97 206.41zM256.20 208.54L258.95 204.09L253.45 204.09zM258.67 205.82L261.42 201.37L255.92 201.37zM261.14 202.66L263.89 198.21L258.39 198.21zM263.62 199.03L266.37 194.58L260.87 194.58zM266.09 194.94L268.84 190.49L263.34 190.49zM268.57 190.42L271.32 185.97L265.82 185.97zM271.04 185.50L273.79 181.05L268.29 181.05zM273.51 180.19L276.26 175.74L270.76 175.74zM275.99 174.60L278.74 170.15L273.24 170.15zM278.46 168.85L281.21 164.40L275.71 164.40zM280.94 163.02L283.69 158.57L278.19 158.57zM283.41 157.15L286.16 152.70L280.66 152.70zM285.88 151.18L288.63 146.73L283.13 146.73zM288.36 145.03L291.11 140.58L285.61 140.58zM290.83 138.63L293.58 134.18L288.08 134.18zM293.30 132.09L296.05 127.64L290.55 127.64zM295.78 125.58L298.53 121.13L293.03 121.13zM298.25 119.26L301.00 114.81L295.50 114.81zM300.73 113.31L303.48 108.86L297.98 108.86zM303.20 107.89L305.95 103.44L300.45 103.44zM305.67 103.18L308.42 98.73L302.92 98.73zM308.15 99.32L310.90 94.87L305.40 94.87zM310.62 96.31L313.37 91.86L307.87 91.86zM313.10 94.05L315.85 89.60L310.35 89.60zM315.57 92.46L318.32 88.01L312.82 88.01zM318.04 91.48L320.79 87.03L315.29 87.03zM320.52 91.12L323.27 86.67L317.77 86.67zM322.99 91.43L325.74 86.98L320.24 86.98zM325.46 92.45L328.21 88.00L322.71 88.00zM327.94 94.25L330.69 89.80L325.19 89.80zM330.41 96.81L333.16 92.36L327.66 92.36zM332.89 99.99L335.64 95.54L330.14 95.54zM335.36 103.68L338.11 99.23L332.61 99.23zM337.83 107.97L340.58 103.52L335.08 103.52zM340.31 112.98L343.06 108.53L337.56 108.53zM342.78 118.84L345.53 114.39L340.03 114.39zM345.26 125.64L348.01 121.19L342.51 121.19zM347.73 133.37L350.48 128.92L344.98 128.92zM350.20 141.90L352.95 137.45L347.45 137.45zM352.68 151.07L355.43 146.62L349.93 146.62zM355.15 160.79L357.90 156.34L352.40 156.34zM357.62 170.90L360.37 166.45L354.87 166.45zM360.10 181.15L362.85 176.70L357.35 176.70zM362.57 191.32L365.32 186.87L359.82 186.87zM365.05 201.23L367.80 196.78L362.30 196.78zM367.52 210.84L370.27 206.39L364.77 206.39zM369.99 220.23L372.74 215.78L367.24 215.78zM372.47 229.49L375.22 225.04L369.72 225.04zM374.94 238.42L377.69 233.97L372.19 233.97zM377.42 247.00L380.17 242.55L374.67 242.55zM379.89 255.39L382.64 250.94L377.14 250.94zM382.36 263.64L385.11 259.19L379.61 259.19zM384.84 271.63L387.59 267.18L382.09 267.18zM387.31 279.27L390.06 274.82L384.56 274.82zM389.78 286.56L392.53 282.11L387.03 282.11zM392.26 293.51L395.01 289.06L389.51 289.06zM394.73 300.09L397.48 295.64L391.98 295.64zM397.21 306.25L399.96 301.80L394.46 301.80zM399.68 311.97L402.43 307.52L396.93 307.52zM402.15 317.20L404.90 312.75L399.40 312.75zM404.63 321.87L407.38 317.42L401.88 317.42zM407.10 326.00L409.85 321.55L404.35 321.55zM409.58 329.61L412.33 325.16L406.83 325.16zM412.05 332.75L414.80 328.30L409.30 328.30zM414.52 335.46L417.27 331.01L411.77 331.01zM417.00 337.75L419.75 333.30L414.25 333.30zM419.47 339.66L422.22 335.21L416.72 335.21zM421.94 341.21L424.69 336.76L419.19 336.76zM424.42 342.44L427.17 337.99L421.67 337.99zM426.89 343.37L429.64 338.92L424.14 338.92zM429.37 344.06L432.12 339.61L426.62 339.61zM431.84 344.55L434.59 340.10L429.09 340.10zM434.31 344.90L437.06 340.45L431.56 340.45zM436.79 345.14L439.54 340.69L434.04 340.69zM439.26 345.29L442.01 340.84L436.51 340.84zM441.74 345.32L444.49 340.87L438.99 340.87zM444.21 345.32L446.96 340.87L441.46 340.87zM446.68 345.32L449.43 340.87L443.93 340.87zM449.16 345.32L451.91 340.87L446.41 340.87zM451.63 345.32L454.38 340.87L448.88 340.87zM454.10 345.32L456.85 340.87L451.35 340.87zM456.58 345.32L459.33 340.87L453.83 340.87zM459.05 345.32L461.80 340.87L456.30 340.87zM461.53 345.32L464.28 340.87L458.78 340.87zM464.00 345.32L466.75 340.87L461.25 340.87zM466.47 345.32L469.22 340.87L463.72 340.87zM468.95 345.32L471.70 340.87L466.20 340.87zM471.42 345.32L474.17 340.87L468.67 340.87zM473.90 345.32L476.65 340.87L471.15 340.87zM476.37 345.32L479.12 340.87L473.62 340.87zM478.84 345.32L481.59 340.87L476.09 340.87zM481.32 345.32L484.07 340.87L478.57 340.87zM483.79 345.32L486.54 340.87L481.04 340.87zM486.26 345.32L489.01 340.87L483.51 340.87zM488.74 345.32L491.49 340.87L485.99 340.87zM491.21 345.32L493.96 340.87L488.46 340.87zM493.69 345.32L496.44 340.87L490.94 340.87zM496.16 345.32L498.91 340.87L493.41 340.87zM498.63 345.32L501.38 340.87L495.88 340.87zM501.11 345.32L503.86 340.87L498.36 340.87zM503.58 345.32L506.33 340.87L500.83 340.87zM506.06 345.32L508.81 340.87L503.31 340.87zM508.53 345.32L511.28 340.87L505.78 340.87zM511.00 345.32L513.75 340.87L508.25 340.87zM513.48 345.32L516.23 340.87L510.73 340.87zM515.95 345.32L518.70 340.87L513.20 340.87zM518.42 345.32L521.17 340.87L515.67 340.87zM520.90 345.32L523.65 340.87L518.15 340.87zM523.37 345.32L526.12 340.87L520.62 340.87zM525.85 345.32L528.60 340.87L523.10 340.87zM528.32 345.32L531.07 340.87L525.57 340.87zM530.79 345.32L533.54 340.87L528.04 340.87zM533.27 345.32L536.02 340.87L530.52 340.87zM535.74 345.32L538.49 340.87L532.99 340.87zM538.22 345.32L540.97 340.87L535.47 340.87zM540.69 345.32L543.44 340.87L537.94 340.87zM543.16 345.32L545.91 340.87L540.41 340.87z" fill="#0000ff"/><path d="M288.85 139.70L289.10 139.05M291.27 133.02L291.63 131.98M293.71 125.92L294.13 124.70M296.19 118.64L296.60 117.45M298.71 111.41L299.03 110.54M335.89 107.46L336.07 107.93M338.25 113.95L338.66 115.14M340.63 121.23L341.22 123.16M343.02 129.30L343.78 132.05M345.41 138.24L346.34 141.96M347.82 148.19L348.88 152.90M350.26 159.15L351.39 164.43M352.72 170.69L353.87 176.08M355.22 182.34L356.32 187.32M357.72 193.56L358.77 198.17M360.17 204.41L361.26 209.30M362.62 215.56L363.76 220.96M365.07 227.23L366.26 233.01M367.56 239.27L368.72 244.86M370.10 251.11L371.12 255.52M372.69 261.72L373.48 264.59M375.27 270.73L375.85 272.63M377.80 278.73L378.27 280.17M380.33 286.23L380.69 287.27M382.86 293.29L383.10 293.93M385.38 299.90L385.53 300.27" fill="none" stroke="#80ffff" stroke-width="1.3"/><path d="M62.62 341.10L65.52 344.00L62.62 346.90L59.72 344.00zM65.09 341.10L67.99 344.00L65.09 346.90L62.19 344.00zM67.57 341.10L70.47 344.00L67.57 346.90L64.67 344.00zM70.04 341.10L72.94 344.00L70.04 346.90L67.14 344.00zM72.51 341.10L75.41 344.00L72.51 346.90L69.61 344.00zM74.99 341.10L77.89 344.00L74.99 346.90L72.09 344.00zM77.46 341.10L80.36 344.00L77.46 346.90L74.56 344.00zM79.94 341.10L82.84 344.00L79.94 346.90L77.04 344.00zM82.41 341.10L85.31 344.00L82.41 346.90L79.51 344.00zM84.88 341.10L87.78 344.00L84.88 346.90L81.98 344.00zM87.36 341.10L90.26 344.00L87.36 346.90L84.46 344.00zM89.83 341.10L92.73 344.00L89.83 346.90L86.93 344.00zM92.30 341.10L95.20 344.00L92.30 346.90L89.40 344.00zM94.78 341.10L97.68 344.00L94.78 346.90L91.88 344.00zM97.25 341.08L100.15 343.98L97.25 346.88L94.35 343.98zM99.73 341.00L102.63 343.90L99.73 346.80L96.83 343.90zM102.20 340.93L105.10 343.83L102.20 346.73L99.30 343.83zM104.67 340.86L107.57 343.76L104.67 346.66L101.77 343.76zM107.15 340.79L110.05 343.69L107.15 346.59L104.25 343.69zM109.62 340.71L112.52 343.61L109.62 346.51L106.72 343.61zM112.10 340.62L115.00 343.52L112.10 346.42L109.20 343.52zM114.57 340.51L117.47 343.41L114.57 346.31L111.67 343.41zM117.04 340.38L119.94 343.28L117.04 346.18L114.14 343.28zM119.52 340.23L122.42 343.13L119.52 346.03L116.62 343.13zM121.99 340.05L124.89 342.95L121.99 345.85L119.09 342.95zM124.46 339.83L127.36 342.73L124.46 345.63L121.56 342.73zM126.94 339.54L129.84 342.44L126.94 345.34L124.04 342.44zM129.41 339.18L132.31 342.08L129.41 344.98L126.51 342.08zM131.89 338.74L134.79 341.64L131.89 344.54L128.99 341.64zM134.36 338.19L137.26 341.09L134.36 343.99L131.46 341.09zM136.83 337.52L139.73 340.42L136.83 343.32L133.93 340.42zM139.31 336.72L142.21 339.62L139.31 342.52L136.41 339.62zM141.78 335.77L144.68 338.67L141.78 341.57L138.88 338.67zM144.26 334.66L147.16 337.56L144.26 340.46L141.36 337.56zM146.73 333.37L149.63 336.27L146.73 339.17L143.83 336.27zM149.20 331.87L152.10 334.77L149.20 337.67L146.30 334.77zM151.68 330.15L154.58 333.05L151.68 335.95L148.78 333.05zM154.15 328.20L157.05 331.10L154.15 334.00L151.25 331.10zM156.62 325.99L159.52 328.89L156.62 331.79L153.72 328.89zM159.10 323.51L162.00 326.41L159.10 329.31L156.20 326.41zM161.57 320.76L164.47 323.66L161.57 326.56L158.67 323.66zM164.05 317.71L166.95 320.61L164.05 323.51L161.15 320.61zM166.52 314.37L169.42 317.27L166.52 320.17L163.62 317.27zM168.99 310.73L171.89 313.63L168.99 316.53L166.09 313.63zM171.47 306.80L174.37 309.70L171.47 312.60L168.57 309.70zM173.94 302.59L176.84 305.49L173.94 308.39L171.04 305.49zM176.42 298.15L179.32 301.05L176.42 303.95L173.52 301.05zM178.89 293.49L181.79 296.39L178.89 299.29L175.99 296.39zM181.36 288.66L184.26 291.56L181.36 294.46L178.46 291.56zM183.84 283.70L186.74 286.60L183.84 289.50L180.94 286.60zM186.31 278.63L189.21 281.53L186.31 284.43L183.41 281.53zM188.78 273.48L191.68 276.38L188.78 279.28L185.88 276.38zM191.26 268.25L194.16 271.15L191.26 274.05L188.36 271.15zM193.73 262.95L196.63 265.85L193.73 268.75L190.83 265.85zM196.21 257.59L199.11 260.49L196.21 263.39L193.31 260.49zM198.68 252.45L201.58 255.35L198.68 258.25L195.78 255.35zM201.15 247.92L204.05 250.82L201.15 253.72L198.25 250.82zM203.63 244.13L206.53 247.03L203.63 249.93L200.73 247.03zM206.10 240.98L209.00 243.88L206.10 246.78L203.20 243.88zM208.58 238.28L211.48 241.18L208.58 244.08L205.68 241.18zM211.05 235.70L213.95 238.60L211.05 241.50L208.15 238.60zM213.52 233.04L216.42 235.94L213.52 238.84L210.62 235.94zM216.00 230.27L218.90 233.17L216.00 236.07L213.10 233.17zM218.47 227.45L221.37 230.35L218.47 233.25L215.57 230.35zM220.94 224.68L223.84 227.58L220.94 230.48L218.04 227.58zM223.42 222.15L226.32 225.05L223.42 227.95L220.52 225.05zM225.89 220.01L228.79 222.91L225.89 225.81L222.99 222.91zM228.37 218.33L231.27 221.23L228.37 224.13L225.47 221.23zM230.84 217.00L233.74 219.90L230.84 222.80L227.94 219.90zM233.31 215.89L236.21 218.79L233.31 221.69L230.41 218.79zM235.79 214.89L238.69 217.79L235.79 220.69L232.89 217.79zM238.26 213.87L241.16 216.77L238.26 219.67L235.36 216.77zM240.74 212.77L243.64 215.67L240.74 218.57L237.84 215.67zM243.21 211.55L246.11 214.45L243.21 217.35L240.31 214.45zM245.68 210.19L248.58 213.09L245.68 215.99L242.78 213.09zM248.16 208.67L251.06 211.57L248.16 214.47L245.26 211.57zM250.63 206.97L253.53 209.87L250.63 212.77L247.73 209.87zM253.10 205.04L256.00 207.94L253.10 210.84L250.20 207.94zM255.58 202.79L258.48 205.69L255.58 208.59L252.68 205.69zM258.05 200.15L260.95 203.05L258.05 205.95L255.15 203.05zM260.53 197.03L263.43 199.93L260.53 202.83L257.63 199.93zM263.00 193.37L265.90 196.27L263.00 199.17L260.10 196.27zM265.47 189.14L268.37 192.04L265.47 194.94L262.57 192.04zM267.95 184.43L270.85 187.33L267.95 190.23L265.05 187.33zM270.42 179.31L273.32 182.21L270.42 185.11L267.52 182.21zM272.90 173.85L275.80 176.75L272.90 179.65L270.00 176.75zM275.37 168.19L278.27 171.09L275.37 173.99L272.47 171.09zM277.84 162.51L280.74 165.41L277.84 168.31L274.94 165.41zM280.32 156.95L283.22 159.85L280.32 162.75L277.42 159.85zM282.79 151.48L285.69 154.38L282.79 157.28L279.89 154.38zM285.26 145.85L288.16 148.75L285.26 151.65L282.36 148.75zM287.74 139.80L290.64 142.70L287.74 145.60L284.84 142.70zM290.21 133.15L293.11 136.05L290.21 138.95L287.31 136.05zM292.69 126.05L295.59 128.95L292.69 131.85L289.79 128.95zM295.16 118.77L298.06 121.67L295.16 124.57L292.26 121.67zM297.63 111.52L300.53 114.42L297.63 117.32L294.73 114.42zM300.11 104.63L303.01 107.53L300.11 110.43L297.21 107.53zM302.58 98.51L305.48 101.41L302.58 104.31L299.68 101.41zM305.06 93.57L307.96 96.47L305.06 99.37L302.16 96.47zM307.53 89.80L310.43 92.70L307.53 95.60L304.63 92.70zM310.00 86.93L312.90 89.83L310.00 92.73L307.10 89.83zM312.48 84.65L315.38 87.55L312.48 90.45L309.58 87.55zM314.95 82.96L317.85 85.86L314.95 88.76L312.05 85.86zM317.42 82.04L320.32 84.94L317.42 87.84L314.52 84.94zM319.90 81.89L322.80 84.79L319.90 87.69L317.00 84.79zM322.37 82.57L325.27 85.47L322.37 88.37L319.47 85.47zM324.85 84.19L327.75 87.09L324.85 89.99L321.95 87.09zM327.32 86.90L330.22 89.80L327.32 92.70L324.42 89.80zM329.79 90.82L332.69 93.72L329.79 96.62L326.89 93.72zM332.27 95.84L335.17 98.74L332.27 101.64L329.37 98.74zM334.74 101.57L337.64 104.47L334.74 107.37L331.84 104.47zM337.22 108.02L340.12 110.92L337.22 113.82L334.32 110.92zM339.69 115.27L342.59 118.17L339.69 121.07L336.79 118.17zM342.16 123.32L345.06 126.22L342.16 129.12L339.26 126.22zM344.64 132.24L347.54 135.14L344.64 138.04L341.74 135.14zM347.11 142.17L350.01 145.07L347.11 147.97L344.21 145.07zM349.58 153.12L352.48 156.02L349.58 158.92L346.68 156.02zM352.06 164.66L354.96 167.56L352.06 170.46L349.16 167.56zM354.53 176.31L357.43 179.21L354.53 182.11L351.63 179.21zM357.01 187.54L359.91 190.44L357.01 193.34L354.11 190.44zM359.48 198.39L362.38 201.29L359.48 204.19L356.58 201.29zM361.95 209.53L364.85 212.43L361.95 215.33L359.05 212.43zM364.43 221.19L367.33 224.09L364.43 226.99L361.53 224.09zM366.90 233.24L369.80 236.14L366.90 239.04L364.00 236.14zM369.38 245.10L372.28 248.00L369.38 250.90L366.48 248.00zM371.85 255.73L374.75 258.63L371.85 261.53L368.95 258.63zM374.32 264.78L377.22 267.68L374.32 270.58L371.42 267.68zM376.80 272.79L379.70 275.69L376.80 278.59L373.90 275.69zM379.27 280.31L382.17 283.21L379.27 286.11L376.37 283.21zM381.74 287.39L384.64 290.29L381.74 293.19L378.84 290.29zM384.22 294.03L387.12 296.93L384.22 299.83L381.32 296.93zM386.69 300.35L389.59 303.25L386.69 306.15L383.79 303.25zM389.17 306.45L392.07 309.35L389.17 312.25L386.27 309.35zM391.64 312.03L394.54 314.93L391.64 317.83L388.74 314.93zM394.11 316.82L397.01 319.72L394.11 322.62L391.21 319.72zM396.59 321.01L399.49 323.91L396.59 326.81L393.69 323.91zM399.06 324.71L401.96 327.61L399.06 330.51L396.16 327.61zM401.54 327.91L404.44 330.81L401.54 333.71L398.64 330.81zM404.01 330.57L406.91 333.47L404.01 336.37L401.11 333.47zM406.48 332.70L409.38 335.60L406.48 338.50L403.58 335.60zM408.96 334.35L411.86 337.25L408.96 340.15L406.06 337.25zM411.43 335.62L414.33 338.52L411.43 341.42L408.53 338.52zM413.90 336.61L416.80 339.51L413.90 342.41L411.00 339.51zM416.38 337.41L419.28 340.31L416.38 343.21L413.48 340.31zM418.85 338.07L421.75 340.97L418.85 343.87L415.95 340.97zM421.33 338.62L424.23 341.52L421.33 344.42L418.43 341.52zM423.80 339.09L426.70 341.99L423.80 344.89L420.90 341.99zM426.27 339.46L429.17 342.36L426.27 345.26L423.37 342.36zM428.75 339.74L431.65 342.64L428.75 345.54L425.85 342.64zM431.22 339.95L434.12 342.85L431.22 345.75L428.32 342.85zM433.70 340.08L436.60 342.98L433.70 345.88L430.80 342.98zM436.17 340.17L439.07 343.07L436.17 345.97L433.27 343.07zM438.64 340.24L441.54 343.14L438.64 346.04L435.74 343.14zM441.12 340.24L444.02 343.14L441.12 346.04L438.22 343.14zM443.59 340.24L446.49 343.14L443.59 346.04L440.69 343.14zM446.06 340.24L448.96 343.14L446.06 346.04L443.16 343.14zM448.54 340.24L451.44 343.14L448.54 346.04L445.64 343.14zM451.01 340.24L453.91 343.14L451.01 346.04L448.11 343.14zM453.49 340.24L456.39 343.14L453.49 346.04L450.59 343.14zM455.96 340.24L458.86 343.14L455.96 346.04L453.06 343.14zM458.43 340.24L461.33 343.14L458.43 346.04L455.53 343.14zM460.91 340.24L463.81 343.14L460.91 346.04L458.01 343.14zM463.38 340.24L466.28 343.14L463.38 346.04L460.48 343.14zM465.86 340.24L468.76 343.14L465.86 346.04L462.96 343.14zM468.33 340.24L471.23 343.14L468.33 346.04L465.43 343.14zM470.80 340.24L473.70 343.14L470.80 346.04L467.90 343.14zM473.28 340.24L476.18 343.14L473.28 346.04L470.38 343.14zM475.75 340.24L478.65 343.14L475.75 346.04L472.85 343.14zM478.22 340.24L481.12 343.14L478.22 346.04L475.32 343.14zM480.70 340.24L483.60 343.14L480.70 346.04L477.80 343.14zM483.17 340.24L486.07 343.14L483.17 346.04L480.27 343.14zM485.65 340.24L488.55 343.14L485.65 346.04L482.75 343.14zM488.12 340.24L491.02 343.14L488.12 346.04L485.22 343.14zM490.59 340.24L493.49 343.14L490.59 346.04L487.69 343.14zM493.07 340.24L495.97 343.14L493.07 346.04L490.17 343.14zM495.54 340.24L498.44 343.14L495.54 346.04L492.64 343.14zM498.02 340.24L500.92 343.14L498.02 346.04L495.12 343.14zM500.49 340.24L503.39 343.14L500.49 346.04L497.59 343.14zM502.96 340.24L505.86 343.14L502.96 346.04L500.06 343.14zM505.44 340.24L508.34 343.14L505.44 346.04L502.54 343.14zM507.91 340.24L510.81 343.14L507.91 346.04L505.01 343.14zM510.38 340.24L513.28 343.14L510.38 346.04L507.48 343.14zM512.86 340.24L515.76 343.14L512.86 346.04L509.96 343.14zM515.33 340.24L518.23 343.14L515.33 346.04L512.43 343.14zM517.81 340.24L520.71 343.14L517.81 346.04L514.91 343.14zM520.28 340.24L523.18 343.14L520.28 346.04L517.38 343.14zM522.75 340.24L525.65 343.14L522.75 346.04L519.85 343.14zM525.23 340.24L528.13 343.14L525.23 346.04L522.33 343.14zM527.70 340.24L530.60 343.14L527.70 346.04L524.80 343.14zM530.18 340.24L533.08 343.14L530.18 346.04L527.28 343.14zM532.65 340.24L535.55 343.14L532.65 346.04L529.75 343.14zM535.12 340.24L538.02 343.14L535.12 346.04L532.22 343.14zM537.60 340.24L540.50 343.14L537.60 346.04L534.70 343.14zM540.07 340.24L542.97 343.14L540.07 346.04L537.17 343.14zM542.54 340.24L545.44 343.14L542.54 346.04L539.64 343.14z" fill="#80ffff"/><path d="M285.08 145.62L285.20 145.34M287.42 139.77L287.81 138.72M289.79 133.06L290.39 131.25M292.19 125.52L292.94 123.02M294.61 117.26L295.47 114.18M297.11 108.41L297.91 105.68M299.82 99.99L300.15 99.13M332.01 86.10L332.28 86.77M334.22 92.44L335.02 95.20M336.70 100.96L337.49 103.68M339.28 109.41L339.85 111.09M341.93 116.72L342.15 117.27M344.32 122.86L344.71 123.90M346.61 129.58L347.36 132.08M348.92 137.88L350.00 142.34M351.28 148.19L352.59 154.72M353.71 160.62L355.11 168.39M356.17 174.29L357.60 182.32M358.67 188.22L360.04 195.52M361.21 201.41L362.45 207.23M363.73 213.09L364.88 218.14M366.20 223.99L367.36 229.20M368.63 235.07L369.87 240.94M371.11 246.81L372.34 252.63M373.67 258.48L374.72 262.78M376.24 268.59L377.11 271.71M378.76 277.47L379.53 280.08M381.38 285.79L381.87 287.19M384.03 292.79L384.16 293.10" fill="none" stroke="#ff33ff" stroke-width="1.3"/><path d="M61.38 344.00L65.83 341.25L65.83 346.75zM63.86 344.00L68.31 341.25L68.31 346.75zM66.33 344.00L70.78 341.25L70.78 346.75zM68.80 344.00L73.25 341.25L73.25 346.75zM71.28 344.00L75.73 341.25L75.73 346.75zM73.75 344.00L78.20 341.25L78.20 346.75zM76.22 344.00L80.67 341.25L80.67 346.75zM78.70 344.00L83.15 341.25L83.15 346.75zM81.17 344.00L85.62 341.25L85.62 346.75zM83.65 344.00L88.10 341.25L88.10 346.75zM86.12 344.00L90.57 341.25L90.57 346.75zM88.59 344.00L93.04 341.25L93.04 346.75zM91.07 344.00L95.52 341.25L95.52 346.75zM93.54 344.00L97.99 341.25L97.99 346.75zM96.02 343.93L100.47 341.18L100.47 346.68zM98.49 343.86L102.94 341.11L102.94 346.61zM100.96 343.80L105.41 341.05L105.41 346.55zM103.44 343.73L107.89 340.98L107.89 346.48zM105.91 343.66L110.36 340.91L110.36 346.41zM108.38 343.57L112.83 340.82L112.83 346.32zM110.86 343.46L115.31 340.71L115.31 346.21zM113.33 343.32L117.78 340.57L117.78 346.07zM115.81 343.15L120.26 340.40L120.26 345.90zM118.28 342.94L122.73 340.19L122.73 345.69zM120.75 342.68L125.20 339.93L125.20 345.43zM123.23 342.35L127.68 339.60L127.68 345.10zM125.70 341.95L130.15 339.20L130.15 344.70zM128.18 341.44L132.63 338.69L132.63 344.19zM130.65 340.84L135.10 338.09L135.10 343.59zM133.12 340.11L137.57 337.36L137.57 342.86zM135.60 339.25L140.05 336.50L140.05 342.00zM138.07 338.24L142.52 335.49L142.52 340.99zM140.54 337.05L144.99 334.30L144.99 339.80zM143.02 335.67L147.47 332.92L147.47 338.42zM145.49 334.08L149.94 331.33L149.94 336.83zM147.97 332.26L152.42 329.51L152.42 335.01zM150.44 330.20L154.89 327.45L154.89 332.95zM152.91 327.88L157.36 325.13L157.36 330.63zM155.39 325.27L159.84 322.52L159.84 328.02zM157.86 322.39L162.31 319.64L162.31 325.14zM160.34 319.22L164.79 316.47L164.79 321.97zM162.81 315.76L167.26 313.01L167.26 318.51zM165.28 312.00L169.73 309.25L169.73 314.75zM167.76 307.96L172.21 305.21L172.21 310.71zM170.23 303.67L174.68 300.92L174.68 306.42zM172.70 299.13L177.15 296.38L177.15 301.88zM175.18 294.37L179.63 291.62L179.63 297.12zM177.65 289.45L182.10 286.70L182.10 292.20zM180.13 284.41L184.58 281.66L184.58 287.16zM182.60 279.29L187.05 276.54L187.05 282.04zM185.07 274.18L189.52 271.43L189.52 276.93zM187.55 269.13L192.00 266.38L192.00 271.88zM190.02 264.14L194.47 261.39L194.47 266.89zM192.50 259.02L196.95 256.27L196.95 261.77zM194.97 253.73L199.42 250.98L199.42 256.48zM197.44 248.98L201.89 246.23L201.89 251.73zM199.92 245.19L204.37 242.44L204.37 247.94zM202.39 241.80L206.84 239.05L206.84 244.55zM204.86 238.39L209.31 235.64L209.31 241.14zM207.34 234.91L211.79 232.16L211.79 237.66zM209.81 231.65L214.26 228.90L214.26 234.40zM212.29 228.94L216.74 226.19L216.74 231.69zM214.76 226.67L219.21 223.92L219.21 229.42zM217.23 224.62L221.68 221.87L221.68 227.37zM219.71 222.68L224.16 219.93L224.16 225.43zM222.18 220.83L226.63 218.08L226.63 223.58zM224.66 219.11L229.11 216.36L229.11 221.86zM227.13 217.51L231.58 214.76L231.58 220.26zM229.60 216.02L234.05 213.27L234.05 218.77zM232.08 214.63L236.53 211.88L236.53 217.38zM234.55 213.32L239.00 210.57L239.00 216.07zM237.02 212.07L241.47 209.32L241.47 214.82zM239.50 210.85L243.95 208.10L243.95 213.60zM241.97 209.64L246.42 206.89L246.42 212.39zM244.45 208.38L248.90 205.63L248.90 211.13zM246.92 207.06L251.37 204.31L251.37 209.81zM249.39 205.61L253.84 202.86L253.84 208.36zM251.87 203.78L256.32 201.03L256.32 206.53zM254.34 201.29L258.79 198.54L258.79 204.04zM256.82 197.85L261.27 195.10L261.27 200.60zM259.29 193.55L263.74 190.80L263.74 196.30zM261.76 188.92L266.21 186.17L266.21 191.67zM264.24 184.37L268.69 181.62L268.69 187.12zM266.71 179.70L271.16 176.95L271.16 182.45zM269.18 174.52L273.63 171.77L273.63 177.27zM271.66 169.00L276.11 166.25L276.11 171.75zM274.13 163.68L278.58 160.93L278.58 166.43zM276.61 158.57L281.06 155.82L281.06 161.32zM279.08 153.58L283.53 150.83L283.53 156.33zM281.55 148.38L286.00 145.63L286.00 151.13zM284.03 142.58L288.48 139.83L288.48 145.33zM286.50 135.91L290.95 133.16L290.95 138.66zM288.98 128.40L293.43 125.65L293.43 131.15zM291.45 120.15L295.90 117.40L295.90 122.90zM293.92 111.30L298.37 108.55L298.37 114.05zM296.40 102.80L300.85 100.05L300.85 105.55zM298.87 96.33L303.32 93.58L303.32 99.08zM301.34 91.75L305.79 89.00L305.79 94.50zM303.82 87.52L308.27 84.77L308.27 90.27zM306.29 83.65L310.74 80.90L310.74 86.40zM308.77 80.21L313.22 77.46L313.22 82.96zM311.24 77.43L315.69 74.68L315.69 80.18zM313.71 75.56L318.16 72.81L318.16 78.31zM316.19 74.56L320.64 71.81L320.64 77.31zM318.66 74.34L323.11 71.59L323.11 77.09zM321.14 74.92L325.59 72.17L325.59 77.67zM323.61 76.40L328.06 73.65L328.06 79.15zM326.08 79.01L330.53 76.26L330.53 81.76zM328.56 83.31L333.01 80.56L333.01 86.06zM331.03 89.56L335.48 86.81L335.48 92.31zM333.50 98.08L337.95 95.33L337.95 100.83zM335.98 106.56L340.43 103.81L340.43 109.31zM338.45 113.94L342.90 111.19L342.90 116.69zM340.93 120.05L345.38 117.30L345.38 122.80zM343.40 126.71L347.85 123.96L347.85 129.46zM345.87 134.96L350.32 132.21L350.32 137.71zM348.35 145.25L352.80 142.50L352.80 148.00zM350.82 157.66L355.27 154.91L355.27 160.41zM353.30 171.34L357.75 168.59L357.75 174.09zM355.77 185.27L360.22 182.52L360.22 188.02zM358.24 198.47L362.69 195.72L362.69 201.22zM360.72 210.17L365.17 207.42L365.17 212.92zM363.19 221.07L367.64 218.32L367.64 223.82zM365.66 232.13L370.11 229.38L370.11 234.88zM368.14 243.87L372.59 241.12L372.59 246.62zM370.61 255.56L375.06 252.81L375.06 258.31zM373.09 265.70L377.54 262.95L377.54 268.45zM375.56 274.60L380.01 271.85L380.01 277.35zM378.03 282.96L382.48 280.21L382.48 285.71zM380.51 290.02L384.96 287.27L384.96 292.77zM382.98 295.87L387.43 293.12L387.43 298.62zM385.46 301.35L389.91 298.60L389.91 304.10zM387.93 306.67L392.38 303.92L392.38 309.42zM390.40 311.51L394.85 308.76L394.85 314.26zM392.88 315.69L397.33 312.94L397.33 318.44zM395.35 319.27L399.80 316.52L399.80 322.02zM397.82 322.85L402.27 320.10L402.27 325.60zM400.30 326.74L404.75 323.99L404.75 329.49zM402.77 330.59L407.22 327.84L407.22 333.34zM405.25 334.04L409.70 331.29L409.70 336.79zM407.72 336.83L412.17 334.08L412.17 339.58zM410.19 338.94L414.64 336.19L414.64 341.69zM412.67 340.44L417.12 337.69L417.12 343.19zM415.14 341.43L419.59 338.68L419.59 344.18zM417.62 342.06L422.07 339.31L422.07 344.81zM420.09 342.46L424.54 339.71L424.54 345.21zM422.56 342.74L427.01 339.99L427.01 345.49zM425.04 342.93L429.49 340.18L429.49 345.68zM427.51 343.06L431.96 340.31L431.96 345.81zM429.98 343.14L434.43 340.39L434.43 345.89zM432.46 343.14L436.91 340.39L436.91 345.89zM434.93 343.14L439.38 340.39L439.38 345.89zM437.41 343.14L441.86 340.39L441.86 345.89zM439.88 343.14L444.33 340.39L444.33 345.89zM442.35 343.14L446.80 340.39L446.80 345.89zM444.83 343.14L449.28 340.39L449.28 345.89zM447.30 343.14L451.75 340.39L451.75 345.89zM449.78 343.14L454.23 340.39L454.23 345.89zM452.25 343.14L456.70 340.39L456.70 345.89zM454.72 343.14L459.17 340.39L459.17 345.89zM457.20 343.14L461.65 340.39L461.65 345.89zM459.67 343.14L464.12 340.39L464.12 345.89zM462.14 343.14L466.59 340.39L466.59 345.89zM464.62 343.14L469.07 340.39L469.07 345.89zM467.09 343.14L471.54 340.39L471.54 345.89zM469.57 343.14L474.02 340.39L474.02 345.89zM472.04 343.14L476.49 340.39L476.49 345.89zM474.51 343.14L478.96 340.39L478.96 345.89zM476.99 343.14L481.44 340.39L481.44 345.89zM479.46 343.14L483.91 340.39L483.91 345.89zM481.94 343.14L486.39 340.39L486.39 345.89zM484.41 343.14L488.86 340.39L488.86 345.89zM486.88 343.14L491.33 340.39L491.33 345.89zM489.36 343.14L493.81 340.39L493.81 345.89zM491.83 343.14L496.28 340.39L496.28 345.89zM494.30 343.14L498.75 340.39L498.75 345.89zM496.78 343.14L501.23 340.39L501.23 345.89zM499.25 343.14L503.70 340.39L503.70 345.89zM501.73 343.14L506.18 340.39L506.18 345.89zM504.20 343.14L508.65 340.39L508.65 345.89zM506.67 343.14L511.12 340.39L511.12 345.89zM509.15 343.14L513.60 340.39L513.60 345.89zM511.62 343.14L516.07 340.39L516.07 345.89zM514.10 343.14L518.55 340.39L518.55 345.89zM516.57 343.14L521.02 340.39L521.02 345.89zM519.04 343.14L523.49 340.39L523.49 345.89zM521.52 343.14L525.97 340.39L525.97 345.89zM523.99 343.14L528.44 340.39L528.44 345.89zM526.46 343.14L530.91 340.39L530.91 345.89zM528.94 343.14L533.39 340.39L533.39 345.89zM531.41 343.14L535.86 340.39L535.86 345.89zM533.89 343.14L538.34 340.39L538.34 345.89zM536.36 343.14L540.81 340.39L540.81 345.89zM538.83 343.14L543.28 340.39L543.28 345.89zM541.31 343.14L545.76 340.39L545.76 345.89z" fill="#ff33ff"/><path d="M278.76 168.34L278.91 167.99M281.21 162.45L281.40 162.00M283.67 156.44L283.89 155.89M286.12 150.32L286.39 149.65M288.57 144.06L288.89 143.23M291.02 137.62L291.39 136.64M293.49 131.03L293.86 130.03M295.98 124.42L296.32 123.55M298.50 117.96L298.75 117.35M338.11 110.91L338.30 111.35M340.47 116.94L340.88 118.06M342.87 123.72L343.44 125.40M345.28 131.11L345.97 133.30M347.70 139.05L348.50 141.79M350.12 147.57L351.03 150.90M352.56 156.70L353.54 160.50M355.01 166.31L356.03 170.40M357.48 176.22L358.51 180.41M359.95 186.23L360.99 190.42M362.43 196.25L363.46 200.40M364.91 206.22L365.93 210.31M367.39 216.13L368.39 220.08M369.88 225.89L370.85 229.63M372.37 235.44L373.31 239.02M374.85 244.82L375.78 248.29M377.35 254.08L378.23 257.28M379.86 263.05L380.66 265.83M382.38 271.58L383.09 273.91M384.90 279.63L385.52 281.54M387.43 287.23L387.94 288.70M389.97 294.35L390.34 295.35M392.54 300.93L392.72 301.38" fill="none" stroke="#ff8033" stroke-width="1.3"/><path d="M64.72 344.00L60.27 341.25L60.27 346.75zM67.19 344.00L62.74 341.25L62.74 346.75zM69.67 344.00L65.22 341.25L65.22 346.75zM72.14 344.00L67.69 341.25L67.69 346.75zM74.62 344.00L70.17 341.25L70.17 346.75zM77.09 344.00L72.64 341.25L72.64 346.75zM79.56 344.00L75.11 341.25L75.11 346.75zM82.04 344.00L77.59 341.25L77.59 346.75zM84.51 344.00L80.06 341.25L80.06 346.75zM86.99 344.00L82.54 341.25L82.54 346.75zM89.46 344.00L85.01 341.25L85.01 346.75zM91.93 344.00L87.48 341.25L87.48 346.75zM94.41 344.00L89.96 341.25L89.96 346.75zM96.88 344.00L92.43 341.25L92.43 346.75zM99.35 343.98L94.90 341.23L94.90 346.73zM101.83 343.91L97.38 341.16L97.38 346.66zM104.30 343.85L99.85 341.10L99.85 346.60zM106.78 343.78L102.33 341.03L102.33 346.53zM109.25 343.71L104.80 340.96L104.80 346.46zM111.72 343.64L107.27 340.89L107.27 346.39zM114.20 343.57L109.75 340.82L109.75 346.32zM116.67 343.48L112.22 340.73L112.22 346.23zM119.15 343.39L114.70 340.64L114.70 346.14zM121.62 343.28L117.17 340.53L117.17 346.03zM124.09 343.15L119.64 340.40L119.64 345.90zM126.57 342.99L122.12 340.24L122.12 345.74zM129.04 342.79L124.59 340.04L124.59 345.54zM131.51 342.53L127.06 339.78L127.06 345.28zM133.99 342.19L129.54 339.44L129.54 344.94zM136.46 341.77L132.01 339.02L132.01 344.52zM138.94 341.25L134.49 338.50L134.49 344.00zM141.41 340.61L136.96 337.86L136.96 343.36zM143.88 339.85L139.43 337.10L139.43 342.60zM146.36 338.93L141.91 336.18L141.91 341.68zM148.83 337.86L144.38 335.11L144.38 340.61zM151.31 336.61L146.86 333.86L146.86 339.36zM153.78 335.15L149.33 332.40L149.33 337.90zM156.25 333.49L151.80 330.74L151.80 336.24zM158.73 331.59L154.28 328.84L154.28 334.34zM161.20 329.43L156.75 326.68L156.75 332.18zM163.67 327.01L159.22 324.26L159.22 329.76zM166.15 324.31L161.70 321.56L161.70 327.06zM168.62 321.32L164.17 318.57L164.17 324.07zM171.10 318.03L166.65 315.28L166.65 320.78zM173.57 314.46L169.12 311.71L169.12 317.21zM176.04 310.60L171.59 307.85L171.59 313.35zM178.52 306.48L174.07 303.73L174.07 309.23zM180.99 302.11L176.54 299.36L176.54 304.86zM183.47 297.51L179.02 294.76L179.02 300.26zM185.94 292.69L181.49 289.94L181.49 295.44zM188.41 287.69L183.96 284.94L183.96 290.44zM190.89 282.53L186.44 279.78L186.44 285.28zM193.36 277.27L188.91 274.52L188.91 280.02zM195.83 271.94L191.38 269.19L191.38 274.69zM198.31 266.65L193.86 263.90L193.86 269.40zM200.78 261.54L196.33 258.79L196.33 264.29zM203.26 256.78L198.81 254.03L198.81 259.53zM205.73 252.42L201.28 249.67L201.28 255.17zM208.20 248.45L203.75 245.70L203.75 251.20zM210.68 244.90L206.23 242.15L206.23 247.65zM213.15 241.71L208.70 238.96L208.70 244.46zM215.63 238.83L211.18 236.08L211.18 241.58zM218.10 236.19L213.65 233.44L213.65 238.94zM220.57 233.77L216.12 231.02L216.12 236.52zM223.05 231.56L218.60 228.81L218.60 234.31zM225.52 229.56L221.07 226.81L221.07 232.31zM227.99 227.77L223.54 225.02L223.54 230.52zM230.47 226.15L226.02 223.40L226.02 228.90zM232.94 224.67L228.49 221.92L228.49 227.42zM235.42 223.28L230.97 220.53L230.97 226.03zM237.89 221.94L233.44 219.19L233.44 224.69zM240.36 220.62L235.91 217.87L235.91 223.37zM242.84 219.28L238.39 216.53L238.39 222.03zM245.31 217.87L240.86 215.12L240.86 220.62zM247.79 216.37L243.34 213.62L243.34 219.12zM250.26 214.73L245.81 211.98L245.81 217.48zM252.73 212.91L248.28 210.16L248.28 215.66zM255.21 210.88L250.76 208.13L250.76 213.63zM257.68 208.59L253.23 205.84L253.23 211.34zM260.15 206.01L255.70 203.26L255.70 208.76zM262.63 203.10L258.18 200.35L258.18 205.85zM265.10 199.83L260.65 197.08L260.65 202.58zM267.58 196.13L263.13 193.38L263.13 198.88zM270.05 191.95L265.60 189.20L265.60 194.70zM272.52 187.30L268.07 184.55L268.07 190.05zM275.00 182.22L270.55 179.47L270.55 184.97zM277.47 176.79L273.02 174.04L273.02 179.54zM279.95 171.10L275.50 168.35L275.50 173.85zM282.42 165.23L277.97 162.48L277.97 167.98zM284.89 159.23L280.44 156.48L280.44 161.98zM287.37 153.11L282.92 150.36L282.92 155.86zM289.84 146.86L285.39 144.11L285.39 149.61zM292.31 140.43L287.86 137.68L287.86 143.18zM294.79 133.84L290.34 131.09L290.34 136.59zM297.26 127.22L292.81 124.47L292.81 129.97zM299.74 120.74L295.29 117.99L295.29 123.49zM302.21 114.57L297.76 111.82L297.76 117.32zM304.68 108.84L300.23 106.09L300.23 111.59zM307.16 103.74L302.71 100.99L302.71 106.49zM309.63 99.41L305.18 96.66L305.18 102.16zM312.11 95.97L307.66 93.22L307.66 98.72zM314.58 93.36L310.13 90.61L310.13 96.11zM317.05 91.51L312.60 88.76L312.60 94.26zM319.53 90.34L315.08 87.59L315.08 93.09zM322.00 89.86L317.55 87.11L317.55 92.61zM324.47 90.07L320.02 87.32L320.02 92.82zM326.95 91.04L322.50 88.29L322.50 93.79zM329.42 92.84L324.97 90.09L324.97 95.59zM331.90 95.48L327.45 92.73L327.45 98.23zM334.37 98.90L329.92 96.15L329.92 101.65zM336.84 103.08L332.39 100.33L332.39 105.83zM339.32 108.13L334.87 105.38L334.87 110.88zM341.79 114.12L337.34 111.37L337.34 116.87zM344.27 120.88L339.82 118.13L339.82 123.63zM346.74 128.25L342.29 125.50L342.29 131.00zM349.21 136.17L344.76 133.42L344.76 138.92zM351.69 144.67L347.24 141.92L347.24 147.42zM354.16 153.79L349.71 151.04L349.71 156.54zM356.63 163.40L352.18 160.65L352.18 166.15zM359.11 173.31L354.66 170.56L354.66 176.06zM361.58 183.32L357.13 180.57L357.13 186.07zM364.06 193.34L359.61 190.59L359.61 196.09zM366.53 203.31L362.08 200.56L362.08 206.06zM369.00 213.22L364.55 210.47L364.55 215.97zM371.48 222.99L367.03 220.24L367.03 225.74zM373.95 232.54L369.50 229.79L369.50 235.29zM376.43 241.93L371.98 239.18L371.98 244.68zM378.90 251.18L374.45 248.43L374.45 253.93zM381.37 260.17L376.92 257.42L376.92 262.92zM383.85 268.71L379.40 265.96L379.40 271.46zM386.32 276.78L381.87 274.03L381.87 279.53zM388.79 284.39L384.34 281.64L384.34 287.14zM391.27 291.54L386.82 288.79L386.82 294.29zM393.74 298.16L389.29 295.41L389.29 300.91zM396.22 304.15L391.77 301.40L391.77 306.90zM398.69 309.52L394.24 306.77L394.24 312.27zM401.16 314.32L396.71 311.57L396.71 317.07zM403.64 318.62L399.19 315.87L399.19 321.37zM406.11 322.46L401.66 319.71L401.66 325.21zM408.59 325.90L404.14 323.15L404.14 328.65zM411.06 328.95L406.61 326.20L406.61 331.70zM413.53 331.64L409.08 328.89L409.08 334.39zM416.01 333.98L411.56 331.23L411.56 336.73zM418.48 335.96L414.03 333.21L414.03 338.71zM420.95 337.60L416.50 334.85L416.50 340.35zM423.43 338.94L418.98 336.19L418.98 341.69zM425.90 340.01L421.45 337.26L421.45 342.76zM428.38 340.86L423.93 338.11L423.93 343.61zM430.85 341.52L426.40 338.77L426.40 344.27zM433.32 342.02L428.87 339.27L428.87 344.77zM435.80 342.39L431.35 339.64L431.35 345.14zM438.27 342.64L433.82 339.89L433.82 345.39zM440.75 342.82L436.30 340.07L436.30 345.57zM443.22 342.94L438.77 340.19L438.77 345.69zM445.69 342.97L441.24 340.22L441.24 345.72zM448.17 342.97L443.72 340.22L443.72 345.72zM450.64 342.97L446.19 340.22L446.19 345.72zM453.11 342.97L448.66 340.22L448.66 345.72zM455.59 342.97L451.14 340.22L451.14 345.72zM458.06 342.97L453.61 340.22L453.61 345.72zM460.54 342.97L456.09 340.22L456.09 345.72zM463.01 342.97L458.56 340.22L458.56 345.72zM465.48 342.97L461.03 340.22L461.03 345.72zM467.96 342.97L463.51 340.22L463.51 345.72zM470.43 342.97L465.98 340.22L465.98 345.72zM472.91 342.97L468.46 340.22L468.46 345.72zM475.38 342.97L470.93 340.22L470.93 345.72zM477.85 342.97L473.40 340.22L473.40 345.72zM480.33 342.97L475.88 340.22L475.88 345.72zM482.80 342.97L478.35 340.22L478.35 345.72zM485.27 342.97L480.82 340.22L480.82 345.72zM487.75 342.97L483.30 340.22L483.30 345.72zM490.22 342.97L485.77 340.22L485.77 345.72zM492.70 342.97L488.25 340.22L488.25 345.72zM495.17 342.97L490.72 340.22L490.72 345.72zM497.64 342.97L493.19 340.22L493.19 345.72zM500.12 342.97L495.67 340.22L495.67 345.72zM502.59 342.97L498.14 340.22L498.14 345.72zM505.07 342.97L500.62 340.22L500.62 345.72zM507.54 342.97L503.09 340.22L503.09 345.72zM510.01 342.97L505.56 340.22L505.56 345.72zM512.49 342.97L508.04 340.22L508.04 345.72zM514.96 342.97L510.51 340.22L510.51 345.72zM517.43 342.97L512.98 340.22L512.98 345.72zM519.91 342.97L515.46 340.22L515.46 345.72zM522.38 342.97L517.93 340.22L517.93 345.72zM524.86 342.97L520.41 340.22L520.41 345.72zM527.33 342.97L522.88 340.22L522.88 345.72zM529.80 342.97L525.35 340.22L525.35 345.72zM532.28 342.97L527.83 340.22L527.83 345.72zM534.75 342.97L530.30 340.22L530.30 345.72zM537.23 342.97L532.78 340.22L532.78 345.72zM539.70 342.97L535.25 340.22L535.25 345.72zM542.17 342.97L537.72 340.22L537.72 345.72zM544.65 342.97L540.20 340.22L540.20 345.72z" fill="#ff8033"/><path d="M364.96 204.11L365.13 204.55M367.40 210.64L367.64 211.28M369.85 217.40L370.14 218.20M372.31 224.33L372.63 225.25M374.77 231.39L375.11 232.37M377.25 238.51L377.58 239.45M379.75 245.58L380.03 246.39M382.25 252.50L382.48 253.12M384.75 259.21L384.92 259.65" fill="none" stroke="#808a1f" stroke-width="1.3"/><path d="M59.10 344.00a2.9 2.9 0 1 0 5.8 0a2.9 2.9 0 1 0 -5.8 0zM61.57 344.00a2.9 2.9 0 1 0 5.8 0a2.9 2.9 0 1 0 -5.8 0zM64.05 344.00a2.9 2.9 0 1 0 5.8 0a2.9 2.9 0 1 0 -5.8 0zM66.52 344.00a2.9 2.9 0 1 0 5.8 0a2.9 2.9 0 1 0 -5.8 0zM69.00 344.00a2.9 2.9 0 1 0 5.8 0a2.9 2.9 0 1 0 -5.8 0zM71.47 344.00a2.9 2.9 0 1 0 5.8 0a2.9 2.9 0 1 0 -5.8 0zM73.94 344.00a2.9 2.9 0 1 0 5.8 0a2.9 2.9 0 1 0 -5.8 0zM76.42 344.00a2.9 2.9 0 1 0 5.8 0a2.9 2.9 0 1 0 -5.8 0zM78.89 344.00a2.9 2.9 0 1 0 5.8 0a2.9 2.9 0 1 0 -5.8 0zM81.36 344.00a2.9 2.9 0 1 0 5.8 0a2.9 2.9 0 1 0 -5.8 0zM83.84 344.00a2.9 2.9 0 1 0 5.8 0a2.9 2.9 0 1 0 -5.8 0zM86.31 344.00a2.9 2.9 0 1 0 5.8 0a2.9 2.9 0 1 0 -5.8 0zM88.79 344.00a2.9 2.9 0 1 0 5.8 0a2.9 2.9 0 1 0 -5.8 0zM91.26 343.89a2.9 2.9 0 1 0 5.8 0a2.9 2.9 0 1 0 -5.8 0zM93.73 343.87a2.9 2.9 0 1 0 5.8 0a2.9 2.9 0 1 0 -5.8 0zM96.21 343.85a2.9 2.9 0 1 0 5.8 0a2.9 2.9 0 1 0 -5.8 0zM98.68 343.84a2.9 2.9 0 1 0 5.8 0a2.9 2.9 0 1 0 -5.8 0zM101.16 343.83a2.9 2.9 0 1 0 5.8 0a2.9 2.9 0 1 0 -5.8 0zM103.63 343.82a2.9 2.9 0 1 0 5.8 0a2.9 2.9 0 1 0 -5.8 0zM106.10 343.80a2.9 2.9 0 1 0 5.8 0a2.9 2.9 0 1 0 -5.8 0zM108.58 343.77a2.9 2.9 0 1 0 5.8 0a2.9 2.9 0 1 0 -5.8 0zM111.05 343.73a2.9 2.9 0 1 0 5.8 0a2.9 2.9 0 1 0 -5.8 0zM113.52 343.67a2.9 2.9 0 1 0 5.8 0a2.9 2.9 0 1 0 -5.8 0zM116.00 343.58a2.9 2.9 0 1 0 5.8 0a2.9 2.9 0 1 0 -5.8 0zM118.47 343.47a2.9 2.9 0 1 0 5.8 0a2.9 2.9 0 1 0 -5.8 0zM120.95 343.34a2.9 2.9 0 1 0 5.8 0a2.9 2.9 0 1 0 -5.8 0zM123.42 343.17a2.9 2.9 0 1 0 5.8 0a2.9 2.9 0 1 0 -5.8 0zM125.89 342.96a2.9 2.9 0 1 0 5.8 0a2.9 2.9 0 1 0 -5.8 0zM128.37 342.70a2.9 2.9 0 1 0 5.8 0a2.9 2.9 0 1 0 -5.8 0zM130.84 342.39a2.9 2.9 0 1 0 5.8 0a2.9 2.9 0 1 0 -5.8 0zM133.32 342.01a2.9 2.9 0 1 0 5.8 0a2.9 2.9 0 1 0 -5.8 0zM135.79 341.54a2.9 2.9 0 1 0 5.8 0a2.9 2.9 0 1 0 -5.8 0zM138.26 340.99a2.9 2.9 0 1 0 5.8 0a2.9 2.9 0 1 0 -5.8 0zM140.74 340.34a2.9 2.9 0 1 0 5.8 0a2.9 2.9 0 1 0 -5.8 0zM143.21 339.57a2.9 2.9 0 1 0 5.8 0a2.9 2.9 0 1 0 -5.8 0zM145.68 338.68a2.9 2.9 0 1 0 5.8 0a2.9 2.9 0 1 0 -5.8 0zM148.16 337.66a2.9 2.9 0 1 0 5.8 0a2.9 2.9 0 1 0 -5.8 0zM150.63 336.48a2.9 2.9 0 1 0 5.8 0a2.9 2.9 0 1 0 -5.8 0zM153.11 335.14a2.9 2.9 0 1 0 5.8 0a2.9 2.9 0 1 0 -5.8 0zM155.58 333.61a2.9 2.9 0 1 0 5.8 0a2.9 2.9 0 1 0 -5.8 0zM158.05 331.88a2.9 2.9 0 1 0 5.8 0a2.9 2.9 0 1 0 -5.8 0zM160.53 329.95a2.9 2.9 0 1 0 5.8 0a2.9 2.9 0 1 0 -5.8 0zM163.00 327.81a2.9 2.9 0 1 0 5.8 0a2.9 2.9 0 1 0 -5.8 0zM165.48 325.43a2.9 2.9 0 1 0 5.8 0a2.9 2.9 0 1 0 -5.8 0zM167.95 322.84a2.9 2.9 0 1 0 5.8 0a2.9 2.9 0 1 0 -5.8 0zM170.42 320.05a2.9 2.9 0 1 0 5.8 0a2.9 2.9 0 1 0 -5.8 0zM172.90 317.10a2.9 2.9 0 1 0 5.8 0a2.9 2.9 0 1 0 -5.8 0zM175.37 314.02a2.9 2.9 0 1 0 5.8 0a2.9 2.9 0 1 0 -5.8 0zM177.84 310.84a2.9 2.9 0 1 0 5.8 0a2.9 2.9 0 1 0 -5.8 0zM180.32 307.59a2.9 2.9 0 1 0 5.8 0a2.9 2.9 0 1 0 -5.8 0zM182.79 304.29a2.9 2.9 0 1 0 5.8 0a2.9 2.9 0 1 0 -5.8 0zM185.27 300.97a2.9 2.9 0 1 0 5.8 0a2.9 2.9 0 1 0 -5.8 0zM187.74 297.65a2.9 2.9 0 1 0 5.8 0a2.9 2.9 0 1 0 -5.8 0zM190.21 294.35a2.9 2.9 0 1 0 5.8 0a2.9 2.9 0 1 0 -5.8 0zM192.69 291.08a2.9 2.9 0 1 0 5.8 0a2.9 2.9 0 1 0 -5.8 0zM195.16 287.89a2.9 2.9 0 1 0 5.8 0a2.9 2.9 0 1 0 -5.8 0zM197.64 284.86a2.9 2.9 0 1 0 5.8 0a2.9 2.9 0 1 0 -5.8 0zM200.11 282.04a2.9 2.9 0 1 0 5.8 0a2.9 2.9 0 1 0 -5.8 0zM202.58 279.44a2.9 2.9 0 1 0 5.8 0a2.9 2.9 0 1 0 -5.8 0zM205.06 277.01a2.9 2.9 0 1 0 5.8 0a2.9 2.9 0 1 0 -5.8 0zM207.53 274.75a2.9 2.9 0 1 0 5.8 0a2.9 2.9 0 1 0 -5.8 0zM210.00 272.64a2.9 2.9 0 1 0 5.8 0a2.9 2.9 0 1 0 -5.8 0zM212.48 270.66a2.9 2.9 0 1 0 5.8 0a2.9 2.9 0 1 0 -5.8 0zM214.95 268.86a2.9 2.9 0 1 0 5.8 0a2.9 2.9 0 1 0 -5.8 0zM217.43 267.24a2.9 2.9 0 1 0 5.8 0a2.9 2.9 0 1 0 -5.8 0zM219.90 265.83a2.9 2.9 0 1 0 5.8 0a2.9 2.9 0 1 0 -5.8 0zM222.37 264.64a2.9 2.9 0 1 0 5.8 0a2.9 2.9 0 1 0 -5.8 0zM224.85 263.65a2.9 2.9 0 1 0 5.8 0a2.9 2.9 0 1 0 -5.8 0zM227.32 262.81a2.9 2.9 0 1 0 5.8 0a2.9 2.9 0 1 0 -5.8 0zM229.80 262.11a2.9 2.9 0 1 0 5.8 0a2.9 2.9 0 1 0 -5.8 0zM232.27 261.49a2.9 2.9 0 1 0 5.8 0a2.9 2.9 0 1 0 -5.8 0zM234.74 260.93a2.9 2.9 0 1 0 5.8 0a2.9 2.9 0 1 0 -5.8 0zM237.22 260.38a2.9 2.9 0 1 0 5.8 0a2.9 2.9 0 1 0 -5.8 0zM239.69 259.80a2.9 2.9 0 1 0 5.8 0a2.9 2.9 0 1 0 -5.8 0zM242.16 259.10a2.9 2.9 0 1 0 5.8 0a2.9 2.9 0 1 0 -5.8 0zM244.64 258.19a2.9 2.9 0 1 0 5.8 0a2.9 2.9 0 1 0 -5.8 0zM247.11 256.99a2.9 2.9 0 1 0 5.8 0a2.9 2.9 0 1 0 -5.8 0zM249.59 255.46a2.9 2.9 0 1 0 5.8 0a2.9 2.9 0 1 0 -5.8 0zM252.06 253.61a2.9 2.9 0 1 0 5.8 0a2.9 2.9 0 1 0 -5.8 0zM254.53 251.46a2.9 2.9 0 1 0 5.8 0a2.9 2.9 0 1 0 -5.8 0zM257.01 249.07a2.9 2.9 0 1 0 5.8 0a2.9 2.9 0 1 0 -5.8 0zM259.48 246.45a2.9 2.9 0 1 0 5.8 0a2.9 2.9 0 1 0 -5.8 0zM261.96 243.61a2.9 2.9 0 1 0 5.8 0a2.9 2.9 0 1 0 -5.8 0zM264.43 240.53a2.9 2.9 0 1 0 5.8 0a2.9 2.9 0 1 0 -5.8 0zM266.90 237.17a2.9 2.9 0 1 0 5.8 0a2.9 2.9 0 1 0 -5.8 0zM269.38 233.49a2.9 2.9 0 1 0 5.8 0a2.9 2.9 0 1 0 -5.8 0zM271.85 229.44a2.9 2.9 0 1 0 5.8 0a2.9 2.9 0 1 0 -5.8 0zM274.32 224.98a2.9 2.9 0 1 0 5.8 0a2.9 2.9 0 1 0 -5.8 0zM276.80 220.06a2.9 2.9 0 1 0 5.8 0a2.9 2.9 0 1 0 -5.8 0zM279.27 214.83a2.9 2.9 0 1 0 5.8 0a2.9 2.9 0 1 0 -5.8 0zM281.75 209.48a2.9 2.9 0 1 0 5.8 0a2.9 2.9 0 1 0 -5.8 0zM284.22 204.09a2.9 2.9 0 1 0 5.8 0a2.9 2.9 0 1 0 -5.8 0zM286.69 198.69a2.9 2.9 0 1 0 5.8 0a2.9 2.9 0 1 0 -5.8 0zM289.17 193.31a2.9 2.9 0 1 0 5.8 0a2.9 2.9 0 1 0 -5.8 0zM291.64 187.94a2.9 2.9 0 1 0 5.8 0a2.9 2.9 0 1 0 -5.8 0zM294.12 182.61a2.9 2.9 0 1 0 5.8 0a2.9 2.9 0 1 0 -5.8 0zM296.59 177.34a2.9 2.9 0 1 0 5.8 0a2.9 2.9 0 1 0 -5.8 0zM299.06 172.21a2.9 2.9 0 1 0 5.8 0a2.9 2.9 0 1 0 -5.8 0zM301.54 167.39a2.9 2.9 0 1 0 5.8 0a2.9 2.9 0 1 0 -5.8 0zM304.01 163.09a2.9 2.9 0 1 0 5.8 0a2.9 2.9 0 1 0 -5.8 0zM306.48 159.35a2.9 2.9 0 1 0 5.8 0a2.9 2.9 0 1 0 -5.8 0zM308.96 156.05a2.9 2.9 0 1 0 5.8 0a2.9 2.9 0 1 0 -5.8 0zM311.43 153.17a2.9 2.9 0 1 0 5.8 0a2.9 2.9 0 1 0 -5.8 0zM313.91 150.72a2.9 2.9 0 1 0 5.8 0a2.9 2.9 0 1 0 -5.8 0zM316.38 148.71a2.9 2.9 0 1 0 5.8 0a2.9 2.9 0 1 0 -5.8 0zM318.85 147.19a2.9 2.9 0 1 0 5.8 0a2.9 2.9 0 1 0 -5.8 0zM321.33 146.21a2.9 2.9 0 1 0 5.8 0a2.9 2.9 0 1 0 -5.8 0zM323.80 145.81a2.9 2.9 0 1 0 5.8 0a2.9 2.9 0 1 0 -5.8 0zM326.28 146.02a2.9 2.9 0 1 0 5.8 0a2.9 2.9 0 1 0 -5.8 0zM328.75 146.79a2.9 2.9 0 1 0 5.8 0a2.9 2.9 0 1 0 -5.8 0zM331.22 148.07a2.9 2.9 0 1 0 5.8 0a2.9 2.9 0 1 0 -5.8 0zM333.70 149.81a2.9 2.9 0 1 0 5.8 0a2.9 2.9 0 1 0 -5.8 0zM336.17 152.07a2.9 2.9 0 1 0 5.8 0a2.9 2.9 0 1 0 -5.8 0zM338.64 154.97a2.9 2.9 0 1 0 5.8 0a2.9 2.9 0 1 0 -5.8 0zM341.12 158.57a2.9 2.9 0 1 0 5.8 0a2.9 2.9 0 1 0 -5.8 0zM343.59 162.75a2.9 2.9 0 1 0 5.8 0a2.9 2.9 0 1 0 -5.8 0zM346.07 167.35a2.9 2.9 0 1 0 5.8 0a2.9 2.9 0 1 0 -5.8 0zM348.54 172.27a2.9 2.9 0 1 0 5.8 0a2.9 2.9 0 1 0 -5.8 0zM351.01 177.51a2.9 2.9 0 1 0 5.8 0a2.9 2.9 0 1 0 -5.8 0zM353.49 183.03a2.9 2.9 0 1 0 5.8 0a2.9 2.9 0 1 0 -5.8 0zM355.96 188.81a2.9 2.9 0 1 0 5.8 0a2.9 2.9 0 1 0 -5.8 0zM358.44 194.82a2.9 2.9 0 1 0 5.8 0a2.9 2.9 0 1 0 -5.8 0zM360.91 201.07a2.9 2.9 0 1 0 5.8 0a2.9 2.9 0 1 0 -5.8 0zM363.38 207.58a2.9 2.9 0 1 0 5.8 0a2.9 2.9 0 1 0 -5.8 0zM365.86 214.34a2.9 2.9 0 1 0 5.8 0a2.9 2.9 0 1 0 -5.8 0zM368.33 221.26a2.9 2.9 0 1 0 5.8 0a2.9 2.9 0 1 0 -5.8 0zM370.80 228.32a2.9 2.9 0 1 0 5.8 0a2.9 2.9 0 1 0 -5.8 0zM373.28 235.44a2.9 2.9 0 1 0 5.8 0a2.9 2.9 0 1 0 -5.8 0zM375.75 242.52a2.9 2.9 0 1 0 5.8 0a2.9 2.9 0 1 0 -5.8 0zM378.23 249.45a2.9 2.9 0 1 0 5.8 0a2.9 2.9 0 1 0 -5.8 0zM380.70 256.17a2.9 2.9 0 1 0 5.8 0a2.9 2.9 0 1 0 -5.8 0zM383.17 262.69a2.9 2.9 0 1 0 5.8 0a2.9 2.9 0 1 0 -5.8 0zM385.65 269.01a2.9 2.9 0 1 0 5.8 0a2.9 2.9 0 1 0 -5.8 0zM388.12 275.15a2.9 2.9 0 1 0 5.8 0a2.9 2.9 0 1 0 -5.8 0zM390.60 281.08a2.9 2.9 0 1 0 5.8 0a2.9 2.9 0 1 0 -5.8 0zM393.07 286.78a2.9 2.9 0 1 0 5.8 0a2.9 2.9 0 1 0 -5.8 0zM395.54 292.27a2.9 2.9 0 1 0 5.8 0a2.9 2.9 0 1 0 -5.8 0zM398.02 297.59a2.9 2.9 0 1 0 5.8 0a2.9 2.9 0 1 0 -5.8 0zM400.49 302.85a2.9 2.9 0 1 0 5.8 0a2.9 2.9 0 1 0 -5.8 0zM402.96 308.00a2.9 2.9 0 1 0 5.8 0a2.9 2.9 0 1 0 -5.8 0zM405.44 312.87a2.9 2.9 0 1 0 5.8 0a2.9 2.9 0 1 0 -5.8 0zM407.91 317.30a2.9 2.9 0 1 0 5.8 0a2.9 2.9 0 1 0 -5.8 0zM410.39 321.22a2.9 2.9 0 1 0 5.8 0a2.9 2.9 0 1 0 -5.8 0zM412.86 324.61a2.9 2.9 0 1 0 5.8 0a2.9 2.9 0 1 0 -5.8 0zM415.33 327.54a2.9 2.9 0 1 0 5.8 0a2.9 2.9 0 1 0 -5.8 0zM417.81 330.04a2.9 2.9 0 1 0 5.8 0a2.9 2.9 0 1 0 -5.8 0zM420.28 332.17a2.9 2.9 0 1 0 5.8 0a2.9 2.9 0 1 0 -5.8 0zM422.76 333.96a2.9 2.9 0 1 0 5.8 0a2.9 2.9 0 1 0 -5.8 0zM425.23 335.46a2.9 2.9 0 1 0 5.8 0a2.9 2.9 0 1 0 -5.8 0zM427.70 336.69a2.9 2.9 0 1 0 5.8 0a2.9 2.9 0 1 0 -5.8 0zM430.18 337.66a2.9 2.9 0 1 0 5.8 0a2.9 2.9 0 1 0 -5.8 0zM432.65 338.44a2.9 2.9 0 1 0 5.8 0a2.9 2.9 0 1 0 -5.8 0zM435.12 339.06a2.9 2.9 0 1 0 5.8 0a2.9 2.9 0 1 0 -5.8 0zM437.60 339.56a2.9 2.9 0 1 0 5.8 0a2.9 2.9 0 1 0 -5.8 0zM440.07 339.97a2.9 2.9 0 1 0 5.8 0a2.9 2.9 0 1 0 -5.8 0zM442.55 340.31a2.9 2.9 0 1 0 5.8 0a2.9 2.9 0 1 0 -5.8 0zM445.02 340.59a2.9 2.9 0 1 0 5.8 0a2.9 2.9 0 1 0 -5.8 0zM447.49 340.82a2.9 2.9 0 1 0 5.8 0a2.9 2.9 0 1 0 -5.8 0zM449.97 341.01a2.9 2.9 0 1 0 5.8 0a2.9 2.9 0 1 0 -5.8 0zM452.44 341.18a2.9 2.9 0 1 0 5.8 0a2.9 2.9 0 1 0 -5.8 0zM454.92 341.33a2.9 2.9 0 1 0 5.8 0a2.9 2.9 0 1 0 -5.8 0zM457.39 341.48a2.9 2.9 0 1 0 5.8 0a2.9 2.9 0 1 0 -5.8 0zM459.86 341.62a2.9 2.9 0 1 0 5.8 0a2.9 2.9 0 1 0 -5.8 0zM462.34 341.70a2.9 2.9 0 1 0 5.8 0a2.9 2.9 0 1 0 -5.8 0zM464.81 341.70a2.9 2.9 0 1 0 5.8 0a2.9 2.9 0 1 0 -5.8 0zM467.28 341.70a2.9 2.9 0 1 0 5.8 0a2.9 2.9 0 1 0 -5.8 0zM469.76 341.70a2.9 2.9 0 1 0 5.8 0a2.9 2.9 0 1 0 -5.8 0zM472.23 341.70a2.9 2.9 0 1 0 5.8 0a2.9 2.9 0 1 0 -5.8 0zM474.71 341.70a2.9 2.9 0 1 0 5.8 0a2.9 2.9 0 1 0 -5.8 0zM477.18 341.70a2.9 2.9 0 1 0 5.8 0a2.9 2.9 0 1 0 -5.8 0zM479.65 341.70a2.9 2.9 0 1 0 5.8 0a2.9 2.9 0 1 0 -5.8 0zM482.13 341.70a2.9 2.9 0 1 0 5.8 0a2.9 2.9 0 1 0 -5.8 0zM484.60 341.70a2.9 2.9 0 1 0 5.8 0a2.9 2.9 0 1 0 -5.8 0zM487.08 341.70a2.9 2.9 0 1 0 5.8 0a2.9 2.9 0 1 0 -5.8 0zM489.55 341.70a2.9 2.9 0 1 0 5.8 0a2.9 2.9 0 1 0 -5.8 0zM492.02 341.70a2.9 2.9 0 1 0 5.8 0a2.9 2.9 0 1 0 -5.8 0zM494.50 341.70a2.9 2.9 0 1 0 5.8 0a2.9 2.9 0 1 0 -5.8 0zM496.97 341.70a2.9 2.9 0 1 0 5.8 0a2.9 2.9 0 1 0 -5.8 0zM499.44 341.70a2.9 2.9 0 1 0 5.8 0a2.9 2.9 0 1 0 -5.8 0zM501.92 341.70a2.9 2.9 0 1 0 5.8 0a2.9 2.9 0 1 0 -5.8 0zM504.39 341.70a2.9 2.9 0 1 0 5.8 0a2.9 2.9 0 1 0 -5.8 0zM506.87 341.70a2.9 2.9 0 1 0 5.8 0a2.9 2.9 0 1 0 -5.8 0zM509.34 341.70a2.9 2.9 0 1 0 5.8 0a2.9 2.9 0 1 0 -5.8 0zM511.81 341.70a2.9 2.9 0 1 0 5.8 0a2.9 2.9 0 1 0 -5.8 0zM514.29 341.70a2.9 2.9 0 1 0 5.8 0a2.9 2.9 0 1 0 -5.8 0zM516.76 341.70a2.9 2.9 0 1 0 5.8 0a2.9 2.9 0 1 0 -5.8 0zM519.24 341.70a2.9 2.9 0 1 0 5.8 0a2.9 2.9 0 1 0 -5.8 0zM521.71 341.70a2.9 2.9 0 1 0 5.8 0a2.9 2.9 0 1 0 -5.8 0zM524.18 341.70a2.9 2.9 0 1 0 5.8 0a2.9 2.9 0 1 0 -5.8 0zM526.66 341.70a2.9 2.9 0 1 0 5.8 0a2.9 2.9 0 1 0 -5.8 0zM529.13 341.70a2.9 2.9 0 1 0 5.8 0a2.9 2.9 0 1 0 -5.8 0zM531.60 341.70a2.9 2.9 0 1 0 5.8 0a2.9 2.9 0 1 0 -5.8 0zM534.08 341.70a2.9 2.9 0 1 0 5.8 0a2.9 2.9 0 1 0 -5.8 0zM536.55 341.70a2.9 2.9 0 1 0 5.8 0a2.9 2.9 0 1 0 -5.8 0zM539.03 341.70a2.9 2.9 0 1 0 5.8 0a2.9 2.9 0 1 0 -5.8 0zM541.50 341.70a2.9 2.9 0 1 0 5.8 0a2.9 2.9 0 1 0 -5.8 0z" fill="#808a1f"/></g>
<rect x="62" y="29.5" width="619" height="314.5" fill="none" stroke="#000" stroke-width="2"/>
<line x1="55.7" y1="344.0" x2="62" y2="344.0" stroke="#000" stroke-width="2"/><text x="51.8" y="350.4" font-size="20" text-anchor="end">0</text><line x1="55.7" y1="286.8" x2="62" y2="286.8" stroke="#000" stroke-width="2"/><text x="51.8" y="293.2" font-size="20" text-anchor="end">100</text><line x1="55.7" y1="229.6" x2="62" y2="229.6" stroke="#000" stroke-width="2"/><text x="51.8" y="236.0" font-size="20" text-anchor="end">200</text><line x1="55.7" y1="172.4" x2="62" y2="172.4" stroke="#000" stroke-width="2"/><text x="51.8" y="178.8" font-size="20" text-anchor="end">300</text><line x1="55.7" y1="115.2" x2="62" y2="115.2" stroke="#000" stroke-width="2"/><text x="51.8" y="121.6" font-size="20" text-anchor="end">400</text><line x1="55.7" y1="58.0" x2="62" y2="58.0" stroke="#000" stroke-width="2"/><text x="51.8" y="64.4" font-size="20" text-anchor="end">500</text><line x1="62.0" y1="344" x2="62.0" y2="349.8" stroke="#000" stroke-width="2"/><text x="61.2" y="369.8" font-size="20" text-anchor="middle">0.01</text><line x1="142.4" y1="344" x2="142.4" y2="349.8" stroke="#000" stroke-width="2"/><text x="141.6" y="369.8" font-size="20" text-anchor="middle">0.1</text><line x1="222.8" y1="344" x2="222.8" y2="349.8" stroke="#000" stroke-width="2"/><text x="222.0" y="369.8" font-size="20" text-anchor="middle">1</text><line x1="303.2" y1="344" x2="303.2" y2="349.8" stroke="#000" stroke-width="2"/><text x="302.4" y="369.8" font-size="20" text-anchor="middle">10</text><line x1="383.6" y1="344" x2="383.6" y2="349.8" stroke="#000" stroke-width="2"/><text x="382.8" y="369.8" font-size="20" text-anchor="middle">100</text><line x1="464.0" y1="344" x2="464.0" y2="349.8" stroke="#000" stroke-width="2"/><text x="463.2" y="369.8" font-size="20" text-anchor="middle">1000</text><line x1="544.4" y1="344" x2="544.4" y2="349.8" stroke="#000" stroke-width="2"/><text x="543.6" y="369.8" font-size="20" text-anchor="middle">10000</text><line x1="624.8" y1="344" x2="624.8" y2="349.8" stroke="#000" stroke-width="2"/><text x="624.0" y="369.8" font-size="20" text-anchor="middle">100000</text>
<text x="0" y="0" font-size="19" text-anchor="middle" transform="translate(14.3,186.5) rotate(-90)">Signal intensity</text>
<text x="346" y="400.5" font-size="19"><tspan font-style="italic">T</tspan><tspan font-size="14" dy="5">2</tspan><tspan dy="-5">(ms)</tspan></text>
<!-- left inset -->
<rect x="118.7" y="59.4" width="115.4" height="119.8" fill="#fff" stroke="none"/>
<g clip-path="url(#ci)"><path d="M105.7 305.5 L106.2 305.2 L106.7 304.8 L107.2 304.4 L107.6 304.0 L108.1 303.6 L108.6 303.2 L109.1 302.8 L109.6 302.3 L110.0 301.9 L110.5 301.4 L111.0 301.0 L111.5 300.5 L112.0 300.0 L112.4 299.5 L112.9 299.0 L113.4 298.4 L113.9 297.9 L114.4 297.3 L114.8 296.7 L115.3 296.2 L115.8 295.5 L116.3 294.9 L116.8 294.3 L117.2 293.6 L117.7 292.9 L118.2 292.2 L118.7 291.5 L119.2 290.8 L119.6 290.1 L120.1 289.3 L120.6 288.5 L121.1 287.7 L121.6 286.8 L122.0 286.0 L122.5 285.1 L123.0 284.2 L123.5 283.3 L124.0 282.3 L124.4 281.4 L124.9 280.4 L125.4 279.3 L125.9 278.3 L126.4 277.2 L126.8 276.1 L127.3 274.9 L127.8 273.7 L128.3 272.5 L128.8 271.2 L129.2 269.9 L129.7 268.6 L130.2 267.3 L130.7 265.9 L131.2 264.4 L131.6 263.0 L132.1 261.5 L132.6 259.9 L133.1 258.4 L133.6 256.8 L134.0 255.1 L134.5 253.5 L135.0 251.8 L135.5 250.1 L136.0 248.4 L136.4 246.6 L136.9 244.8 L137.4 243.1 L137.9 241.3 L138.4 239.4 L138.8 237.6 L139.3 235.8 L139.8 233.9 L140.3 232.1 L140.8 230.2 L141.2 228.4 L141.7 226.5 L142.2 224.7 L142.7 222.8 L143.1 221.0 L143.6 219.1 L144.1 217.2 L144.6 215.3 L145.1 213.4 L145.5 211.5 L146.0 209.6 L146.5 207.6 L147.0 205.7 L147.5 203.7 L147.9 201.7 L148.4 199.8 L148.9 197.8 L149.4 195.8 L149.9 193.7 L150.3 191.7 L150.8 189.7 L151.3 187.6 L151.8 185.5 L152.3 183.5 L152.7 181.4 L153.2 179.3 L153.7 177.2 L154.2 175.1 L154.7 173.0 L155.1 170.9 L155.6 168.8 L156.1 166.6 L156.6 164.5 L157.1 162.5 L157.5 160.4 L158.0 158.3 L158.5 156.3 L159.0 154.3 L159.5 152.3 L159.9 150.3 L160.4 148.4 L160.9 146.6 L161.4 144.7 L161.9 143.0 L162.3 141.2 L162.8 139.6 L163.3 138.0 L163.8 136.4 L164.3 134.9 L164.7 133.5 L165.2 132.1 L165.7 130.8 L166.2 129.6 L166.7 128.4 L167.1 127.3 L167.6 126.3 L168.1 125.3 L168.6 124.4 L169.1 123.5 L169.5 122.7 L170.0 122.0 L170.5 121.3 L171.0 120.7 L171.5 120.0 L171.9 119.5 L172.4 119.0 L172.9 118.5 L173.4 118.1 L173.9 117.7 L174.3 117.3 L174.8 116.9 L175.3 116.6 L175.8 116.4 L176.3 116.1 L176.7 115.9 L177.2 115.7 L177.7 115.5 L178.2 115.4 L178.7 115.2 L179.1 115.1 L179.6 115.1 L180.1 115.0 L180.6 115.0 L181.1 115.0 L181.5 115.0 L182.0 115.0 L182.5 115.1 L183.0 115.2 L183.5 115.3 L183.9 115.4 L184.4 115.6 L184.9 115.8 L185.4 116.0 L185.9 116.2 L186.3 116.5 L186.8 116.8 L187.3 117.2 L187.8 117.6 L188.3 118.0 L188.7 118.4 L189.2 118.9 L189.7 119.5 L190.2 120.0 L190.7 120.7 L191.1 121.3 L191.6 122.1 L192.1 122.8 L192.6 123.7 L193.1 124.5 L193.5 125.5 L194.0 126.5 L194.5 127.5 L195.0 128.7 L195.5 129.9 L195.9 131.1 L196.4 132.5 L196.9 133.9 L197.4 135.4 L197.9 137.0 L198.3 138.6 L198.8 140.4 L199.3 142.2 L199.8 144.1 L200.3 146.1 L200.7 148.2 L201.2 150.3 L201.7 152.5 L202.2 154.8 L202.7 157.1 L203.1 159.5 L203.6 161.9 L204.1 164.4 L204.6 166.9 L205.1 169.5 L205.5 172.1 L206.0 174.8 L206.5 177.5 L207.0 180.2 L207.5 182.9 L207.9 185.7 L208.4 188.5 L208.9 191.3 L209.4 194.2 L209.9 197.0 L210.3 199.9 L210.8 202.8 L211.3 205.8 L211.8 208.7 L212.3 211.7 L212.7 214.7 L213.2 217.7 L213.7 220.8 L214.2 223.9 L214.6 227.0 L215.1 230.1 L215.6 233.2 L216.1 236.4 L216.6 239.6 L217.0 242.7 L217.5 245.9 L218.0 249.1 L218.5 252.3 L219.0 255.5 L219.4 258.7 L219.9 261.9 L220.4 265.1 L220.9 268.3 L221.4 271.5 L221.8 274.7 L222.3 277.9 L222.8 281.1 L223.3 284.3 L223.8 287.5 L224.2 290.7 L224.7 293.9 L225.2 297.0 L225.7 300.2 L226.2 303.3 L226.6 306.3 L227.1 309.4 L227.6 312.4 L228.1 315.3 L228.6 318.2 L229.0 321.1 L229.5 324.0 L230.0 326.8 L230.5 329.6 L231.0 332.4 L231.4 335.1 L231.9 337.8 L232.4 340.4 L232.9 343.1 L233.4 345.6 L233.8 348.2 L234.3 350.7 L234.8 353.1 L235.3 355.6 L235.8 358.0 L236.2 360.3 L236.7 362.7 L237.2 365.0 L237.7 367.3 L238.2 369.6 L238.6 371.9 L239.1 374.1 L239.6 376.3 L240.1 378.5 L240.6 380.7 L241.0 382.8 L241.5 385.0 L242.0 387.1 L242.5 389.2 L243.0 391.2 L243.4 393.3 L243.9 395.4 L244.4 397.4 L244.9 399.4 L245.4 401.4 L245.8 403.4 L246.3 405.4 L246.8 407.4 L247.3 409.3 L247.8 411.3 L248.2 413.3 L248.7 415.2 L249.2 417.2" fill="none" stroke="#33ff1a" stroke-width="1"/><path d="M105.7 304.3h1.4v1.4h-1.4zM108.3 302.2h1.4v1.4h-1.4zM110.9 299.7h1.4v1.4h-1.4zM113.5 296.9h1.4v1.4h-1.4zM116.1 293.6h1.4v1.4h-1.4zM118.7 289.8h1.4v1.4h-1.4zM121.3 285.4h1.4v1.4h-1.4zM123.8 280.4h1.4v1.4h-1.4zM126.4 274.6h1.4v1.4h-1.4zM129.0 267.8h1.4v1.4h-1.4zM131.6 260.0h1.4v1.4h-1.4zM134.2 251.3h1.4v1.4h-1.4zM136.8 241.8h1.4v1.4h-1.4zM139.4 231.9h1.4v1.4h-1.4zM142.0 221.9h1.4v1.4h-1.4zM144.6 211.7h1.4v1.4h-1.4zM147.2 201.2h1.4v1.4h-1.4zM149.8 190.3h1.4v1.4h-1.4zM152.4 179.1h1.4v1.4h-1.4zM155.0 167.7h1.4v1.4h-1.4zM157.6 156.4h1.4v1.4h-1.4zM160.2 145.9h1.4v1.4h-1.4zM162.8 136.6h1.4v1.4h-1.4zM165.4 129.1h1.4v1.4h-1.4zM168.0 123.5h1.4v1.4h-1.4zM170.6 119.6h1.4v1.4h-1.4zM173.2 116.9h1.4v1.4h-1.4zM175.8 115.3h1.4v1.4h-1.4zM178.4 114.5h1.4v1.4h-1.4zM181.0 114.3h1.4v1.4h-1.4zM183.6 114.8h1.4v1.4h-1.4zM186.2 116.2h1.4v1.4h-1.4zM188.8 118.5h1.4v1.4h-1.4zM191.4 122.1h1.4v1.4h-1.4zM194.0 127.2h1.4v1.4h-1.4zM196.6 134.3h1.4v1.4h-1.4zM199.2 143.7h1.4v1.4h-1.4zM201.8 155.4h1.4v1.4h-1.4zM204.4 168.8h1.4v1.4h-1.4zM206.9 183.3h1.4v1.4h-1.4zM209.5 198.7h1.4v1.4h-1.4zM212.1 214.7h1.4v1.4h-1.4zM214.7 231.4h1.4v1.4h-1.4zM217.3 248.6h1.4v1.4h-1.4zM219.9 265.9h1.4v1.4h-1.4zM222.5 283.2h1.4v1.4h-1.4zM225.1 300.4h1.4v1.4h-1.4zM227.7 316.7h1.4v1.4h-1.4zM230.3 332.0h1.4v1.4h-1.4zM232.9 346.3h1.4v1.4h-1.4zM235.5 359.5h1.4v1.4h-1.4zM238.1 371.9h1.4v1.4h-1.4zM240.7 383.8h1.4v1.4h-1.4zM243.3 395.0h1.4v1.4h-1.4zM245.9 405.9h1.4v1.4h-1.4z" fill="#33ff1a"/><path d="M105.7 295.5 L106.2 295.1 L106.7 294.7 L107.2 294.2 L107.6 293.8 L108.1 293.3 L108.6 292.8 L109.1 292.3 L109.6 291.7 L110.0 291.2 L110.5 290.6 L111.0 290.1 L111.5 289.5 L112.0 288.9 L112.4 288.2 L112.9 287.6 L113.4 286.9 L113.9 286.2 L114.4 285.5 L114.8 284.8 L115.3 284.0 L115.8 283.2 L116.3 282.4 L116.8 281.6 L117.2 280.8 L117.7 279.9 L118.2 279.0 L118.7 278.1 L119.2 277.1 L119.6 276.2 L120.1 275.2 L120.6 274.2 L121.1 273.1 L121.6 272.0 L122.0 270.9 L122.5 269.8 L123.0 268.6 L123.5 267.4 L124.0 266.2 L124.4 265.0 L124.9 263.7 L125.4 262.4 L125.9 261.1 L126.4 259.8 L126.8 258.4 L127.3 257.0 L127.8 255.6 L128.3 254.2 L128.8 252.7 L129.2 251.3 L129.7 249.8 L130.2 248.2 L130.7 246.7 L131.2 245.1 L131.6 243.5 L132.1 241.9 L132.6 240.3 L133.1 238.6 L133.6 237.0 L134.0 235.3 L134.5 233.6 L135.0 231.9 L135.5 230.1 L136.0 228.4 L136.4 226.7 L136.9 224.9 L137.4 223.1 L137.9 221.4 L138.4 219.6 L138.8 217.8 L139.3 216.0 L139.8 214.2 L140.3 212.4 L140.8 210.6 L141.2 208.9 L141.7 207.1 L142.2 205.3 L142.7 203.5 L143.1 201.7 L143.6 199.9 L144.1 198.0 L144.6 196.2 L145.1 194.4 L145.5 192.6 L146.0 190.7 L146.5 188.9 L147.0 187.0 L147.5 185.1 L147.9 183.3 L148.4 181.4 L148.9 179.5 L149.4 177.5 L149.9 175.6 L150.3 173.6 L150.8 171.7 L151.3 169.7 L151.8 167.7 L152.3 165.7 L152.7 163.7 L153.2 161.7 L153.7 159.7 L154.2 157.6 L154.7 155.6 L155.1 153.6 L155.6 151.6 L156.1 149.6 L156.6 147.6 L157.1 145.6 L157.5 143.7 L158.0 141.7 L158.5 139.8 L159.0 137.8 L159.5 135.9 L159.9 134.0 L160.4 132.2 L160.9 130.3 L161.4 128.5 L161.9 126.7 L162.3 125.0 L162.8 123.2 L163.3 121.5 L163.8 119.9 L164.3 118.2 L164.7 116.6 L165.2 115.1 L165.7 113.6 L166.2 112.1 L166.7 110.7 L167.1 109.3 L167.6 108.0 L168.1 106.7 L168.6 105.5 L169.1 104.3 L169.5 103.2 L170.0 102.1 L170.5 101.1 L171.0 100.1 L171.5 99.2 L171.9 98.3 L172.4 97.5 L172.9 96.7 L173.4 95.9 L173.9 95.2 L174.3 94.5 L174.8 93.9 L175.3 93.3 L175.8 92.7 L176.3 92.2 L176.7 91.7 L177.2 91.3 L177.7 90.9 L178.2 90.5 L178.7 90.1 L179.1 89.8 L179.6 89.6 L180.1 89.3 L180.6 89.1 L181.1 88.9 L181.5 88.8 L182.0 88.7 L182.5 88.6 L183.0 88.6 L183.5 88.6 L183.9 88.6 L184.4 88.7 L184.9 88.8 L185.4 89.0 L185.9 89.2 L186.3 89.5 L186.8 89.7 L187.3 90.1 L187.8 90.4 L188.3 90.9 L188.7 91.3 L189.2 91.8 L189.7 92.4 L190.2 93.0 L190.7 93.6 L191.1 94.3 L191.6 95.0 L192.1 95.8 L192.6 96.6 L193.1 97.5 L193.5 98.4 L194.0 99.3 L194.5 100.2 L195.0 101.2 L195.5 102.2 L195.9 103.3 L196.4 104.3 L196.9 105.4 L197.4 106.5 L197.9 107.7 L198.3 108.9 L198.8 110.1 L199.3 111.4 L199.8 112.7 L200.3 114.0 L200.7 115.3 L201.2 116.8 L201.7 118.2 L202.2 119.7 L202.7 121.2 L203.1 122.8 L203.6 124.4 L204.1 126.1 L204.6 127.8 L205.1 129.6 L205.5 131.4 L206.0 133.3 L206.5 135.2 L207.0 137.2 L207.5 139.3 L207.9 141.4 L208.4 143.5 L208.9 145.7 L209.4 148.0 L209.9 150.3 L210.3 152.6 L210.8 155.0 L211.3 157.5 L211.8 160.0 L212.3 162.6 L212.7 165.2 L213.2 167.8 L213.7 170.5 L214.2 173.2 L214.6 175.9 L215.1 178.7 L215.6 181.5 L216.1 184.3 L216.6 187.2 L217.0 190.1 L217.5 193.1 L218.0 196.0 L218.5 199.0 L219.0 202.1 L219.4 205.1 L219.9 208.2 L220.4 211.3 L220.9 214.4 L221.4 217.5 L221.8 220.7 L222.3 223.8 L222.8 227.0 L223.3 230.1 L223.8 233.3 L224.2 236.4 L224.7 239.6 L225.2 242.7 L225.7 245.8 L226.2 249.0 L226.6 252.1 L227.1 255.2 L227.6 258.3 L228.1 261.3 L228.6 264.4 L229.0 267.4 L229.5 270.4 L230.0 273.4 L230.5 276.4 L231.0 279.3 L231.4 282.3 L231.9 285.2 L232.4 288.1 L232.9 291.0 L233.4 293.9 L233.8 296.8 L234.3 299.7 L234.8 302.6 L235.3 305.4 L235.8 308.3 L236.2 311.1 L236.7 314.0 L237.2 316.8 L237.7 319.6 L238.2 322.4 L238.6 325.2 L239.1 327.9 L239.6 330.6 L240.1 333.3 L240.6 336.0 L241.0 338.7 L241.5 341.3 L242.0 343.9 L242.5 346.5 L243.0 349.1 L243.4 351.7 L243.9 354.3 L244.4 356.9 L244.9 359.4 L245.4 362.0 L245.8 364.5 L246.3 367.1 L246.8 369.6 L247.3 372.2 L247.8 374.7 L248.2 377.2 L248.7 379.6 L249.2 382.1" fill="none" stroke="#0000ff" stroke-width="1"/><path d="M105.7 294.3h1.4v1.4h-1.4zM108.3 291.7h1.4v1.4h-1.4zM110.9 288.7h1.4v1.4h-1.4zM113.5 285.1h1.4v1.4h-1.4zM116.1 280.9h1.4v1.4h-1.4zM118.7 276.1h1.4v1.4h-1.4zM121.3 270.4h1.4v1.4h-1.4zM123.8 264.0h1.4v1.4h-1.4zM126.4 256.8h1.4v1.4h-1.4zM129.0 249.0h1.4v1.4h-1.4zM131.6 240.4h1.4v1.4h-1.4zM134.2 231.4h1.4v1.4h-1.4zM136.8 221.9h1.4v1.4h-1.4zM139.4 212.3h1.4v1.4h-1.4zM142.0 202.6h1.4v1.4h-1.4zM144.6 192.7h1.4v1.4h-1.4zM147.2 182.7h1.4v1.4h-1.4zM149.8 172.2h1.4v1.4h-1.4zM152.4 161.4h1.4v1.4h-1.4zM155.0 150.6h1.4v1.4h-1.4zM157.6 139.9h1.4v1.4h-1.4zM160.2 129.6h1.4v1.4h-1.4zM162.8 120.1h1.4v1.4h-1.4zM165.4 111.7h1.4v1.4h-1.4zM168.0 104.5h1.4v1.4h-1.4zM170.6 98.8h1.4v1.4h-1.4zM173.2 94.5h1.4v1.4h-1.4zM175.8 91.3h1.4v1.4h-1.4zM178.4 89.2h1.4v1.4h-1.4zM181.0 88.0h1.4v1.4h-1.4zM183.6 88.0h1.4v1.4h-1.4zM186.2 89.1h1.4v1.4h-1.4zM188.8 91.4h1.4v1.4h-1.4zM191.4 95.1h1.4v1.4h-1.4zM194.0 99.9h1.4v1.4h-1.4zM196.6 105.6h1.4v1.4h-1.4zM199.2 112.2h1.4v1.4h-1.4zM201.8 119.9h1.4v1.4h-1.4zM204.4 128.9h1.4v1.4h-1.4zM206.9 139.4h1.4v1.4h-1.4zM209.5 151.5h1.4v1.4h-1.4zM212.1 165.1h1.4v1.4h-1.4zM214.7 179.8h1.4v1.4h-1.4zM217.3 195.5h1.4v1.4h-1.4zM219.9 212.1h1.4v1.4h-1.4zM222.5 229.0h1.4v1.4h-1.4zM225.1 246.1h1.4v1.4h-1.4zM227.7 262.8h1.4v1.4h-1.4zM230.3 279.0h1.4v1.4h-1.4zM232.9 294.8h1.4v1.4h-1.4zM235.5 310.3h1.4v1.4h-1.4zM238.1 325.4h1.4v1.4h-1.4zM240.7 340.0h1.4v1.4h-1.4zM243.3 354.0h1.4v1.4h-1.4zM245.9 367.9h1.4v1.4h-1.4z" fill="#0000ff"/><path d="M105.7 294.0 L106.2 293.6 L106.7 293.1 L107.2 292.6 L107.6 292.1 L108.1 291.6 L108.6 291.1 L109.1 290.5 L109.6 290.0 L110.0 289.4 L110.5 288.9 L111.0 288.3 L111.5 287.7 L112.0 287.0 L112.4 286.4 L112.9 285.7 L113.4 285.1 L113.9 284.4 L114.4 283.7 L114.8 282.9 L115.3 282.2 L115.8 281.4 L116.3 280.6 L116.8 279.7 L117.2 278.9 L117.7 278.0 L118.2 277.1 L118.7 276.2 L119.2 275.2 L119.6 274.2 L120.1 273.2 L120.6 272.1 L121.1 271.0 L121.6 269.9 L122.0 268.7 L122.5 267.5 L123.0 266.3 L123.5 265.0 L124.0 263.7 L124.4 262.4 L124.9 261.1 L125.4 259.7 L125.9 258.3 L126.4 256.9 L126.8 255.4 L127.3 254.0 L127.8 252.4 L128.3 250.9 L128.8 249.4 L129.2 247.8 L129.7 246.2 L130.2 244.6 L130.7 243.0 L131.2 241.3 L131.6 239.6 L132.1 238.0 L132.6 236.3 L133.1 234.5 L133.6 232.8 L134.0 231.1 L134.5 229.4 L135.0 227.6 L135.5 225.9 L136.0 224.1 L136.4 222.4 L136.9 220.6 L137.4 218.9 L137.9 217.1 L138.4 215.4 L138.8 213.7 L139.3 211.9 L139.8 210.2 L140.3 208.5 L140.8 206.9 L141.2 205.2 L141.7 203.5 L142.2 201.8 L142.7 200.2 L143.1 198.5 L143.6 196.8 L144.1 195.1 L144.6 193.4 L145.1 191.6 L145.5 189.9 L146.0 188.1 L146.5 186.3 L147.0 184.5 L147.5 182.6 L147.9 180.7 L148.4 178.8 L148.9 176.9 L149.4 174.9 L149.9 172.8 L150.3 170.8 L150.8 168.7 L151.3 166.6 L151.8 164.4 L152.3 162.2 L152.7 160.1 L153.2 157.9 L153.7 155.7 L154.2 153.4 L154.7 151.2 L155.1 149.0 L155.6 146.7 L156.1 144.5 L156.6 142.2 L157.1 140.0 L157.5 137.7 L158.0 135.5 L158.5 133.3 L159.0 131.1 L159.5 128.9 L159.9 126.8 L160.4 124.6 L160.9 122.5 L161.4 120.5 L161.9 118.5 L162.3 116.5 L162.8 114.6 L163.3 112.7 L163.8 110.9 L164.3 109.2 L164.7 107.5 L165.2 105.9 L165.7 104.4 L166.2 103.0 L166.7 101.6 L167.1 100.3 L167.6 99.1 L168.1 97.9 L168.6 96.8 L169.1 95.7 L169.5 94.7 L170.0 93.8 L170.5 92.8 L171.0 92.0 L171.5 91.1 L171.9 90.3 L172.4 89.6 L172.9 88.8 L173.4 88.1 L173.9 87.5 L174.3 86.8 L174.8 86.2 L175.3 85.6 L175.8 85.1 L176.3 84.6 L176.7 84.1 L177.2 83.7 L177.7 83.3 L178.2 83.0 L178.7 82.7 L179.1 82.4 L179.6 82.3 L180.1 82.1 L180.6 82.0 L181.1 81.9 L181.5 81.9 L182.0 81.9 L182.5 82.0 L183.0 82.1 L183.5 82.3 L183.9 82.5 L184.4 82.8 L184.9 83.1 L185.4 83.4 L185.9 83.9 L186.3 84.4 L186.8 84.9 L187.3 85.5 L187.8 86.2 L188.3 86.9 L188.7 87.7 L189.2 88.5 L189.7 89.4 L190.2 90.4 L190.7 91.5 L191.1 92.6 L191.6 93.8 L192.1 95.1 L192.6 96.4 L193.1 97.8 L193.5 99.3 L194.0 100.8 L194.5 102.4 L195.0 104.0 L195.5 105.7 L195.9 107.3 L196.4 109.1 L196.9 110.8 L197.4 112.6 L197.9 114.5 L198.3 116.4 L198.8 118.3 L199.3 120.2 L199.8 122.2 L200.3 124.3 L200.7 126.4 L201.2 128.5 L201.7 130.7 L202.2 133.0 L202.7 135.3 L203.1 137.6 L203.6 140.0 L204.1 142.4 L204.6 144.9 L205.1 147.4 L205.5 149.9 L206.0 152.5 L206.5 155.2 L207.0 157.9 L207.5 160.7 L207.9 163.5 L208.4 166.4 L208.9 169.3 L209.4 172.3 L209.9 175.3 L210.3 178.4 L210.8 181.6 L211.3 184.9 L211.8 188.2 L212.3 191.5 L212.7 194.9 L213.2 198.3 L213.7 201.8 L214.2 205.3 L214.6 208.9 L215.1 212.4 L215.6 216.0 L216.1 219.6 L216.6 223.2 L217.0 226.8 L217.5 230.3 L218.0 233.9 L218.5 237.5 L219.0 241.0 L219.4 244.5 L219.9 248.0 L220.4 251.5 L220.9 254.8 L221.4 258.2 L221.8 261.5 L222.3 264.9 L222.8 268.2 L223.3 271.5 L223.8 274.9 L224.2 278.2 L224.7 281.6 L225.2 285.0 L225.7 288.4 L226.2 291.9 L226.6 295.4 L227.1 298.9 L227.6 302.5 L228.1 306.1 L228.6 309.7 L229.0 313.4 L229.5 317.0 L230.0 320.7 L230.5 324.4 L231.0 328.1 L231.4 331.8 L231.9 335.6 L232.4 339.3 L232.9 342.9 L233.4 346.6 L233.8 350.2 L234.3 353.7 L234.8 357.2 L235.3 360.6 L235.8 363.8 L236.2 367.0 L236.7 370.1 L237.2 373.1 L237.7 376.0 L238.2 378.8 L238.6 381.5 L239.1 384.2 L239.6 386.8 L240.1 389.3 L240.6 391.8 L241.0 394.3 L241.5 396.7 L242.0 399.1 L242.5 401.4 L243.0 403.8 L243.4 406.1 L243.9 408.4 L244.4 410.7 L244.9 412.9 L245.4 415.1 L245.8 417.3 L246.3 419.5 L246.8 421.6 L247.3 423.8 L247.8 425.8 L248.2 427.9 L248.7 429.9 L249.2 432.0" fill="none" stroke="#80ffff" stroke-width="1"/><path d="M105.7 292.7h1.4v1.4h-1.4zM108.3 290.0h1.4v1.4h-1.4zM110.9 286.9h1.4v1.4h-1.4zM113.5 283.3h1.4v1.4h-1.4zM116.1 279.0h1.4v1.4h-1.4zM118.7 274.1h1.4v1.4h-1.4zM121.3 268.2h1.4v1.4h-1.4zM123.8 261.4h1.4v1.4h-1.4zM126.4 253.8h1.4v1.4h-1.4zM129.0 245.4h1.4v1.4h-1.4zM131.6 236.5h1.4v1.4h-1.4zM134.2 227.1h1.4v1.4h-1.4zM136.8 217.6h1.4v1.4h-1.4zM139.4 208.3h1.4v1.4h-1.4zM142.0 199.3h1.4v1.4h-1.4zM144.6 190.0h1.4v1.4h-1.4zM147.2 180.1h1.4v1.4h-1.4zM149.8 169.3h1.4v1.4h-1.4zM152.4 157.7h1.4v1.4h-1.4zM155.0 145.6h1.4v1.4h-1.4zM157.6 133.5h1.4v1.4h-1.4zM160.2 121.8h1.4v1.4h-1.4zM162.8 111.3h1.4v1.4h-1.4zM165.4 102.5h1.4v1.4h-1.4zM168.0 95.8h1.4v1.4h-1.4zM170.6 90.7h1.4v1.4h-1.4zM173.2 86.7h1.4v1.4h-1.4zM175.8 83.6h1.4v1.4h-1.4zM178.4 81.8h1.4v1.4h-1.4zM181.0 81.2h1.4v1.4h-1.4zM183.6 82.0h1.4v1.4h-1.4zM186.2 84.3h1.4v1.4h-1.4zM188.8 88.3h1.4v1.4h-1.4zM191.4 94.3h1.4v1.4h-1.4zM194.0 102.3h1.4v1.4h-1.4zM196.6 111.5h1.4v1.4h-1.4zM199.2 121.9h1.4v1.4h-1.4zM201.8 133.6h1.4v1.4h-1.4zM204.4 146.7h1.4v1.4h-1.4zM206.9 161.1h1.4v1.4h-1.4zM209.5 177.2h1.4v1.4h-1.4zM212.1 195.0h1.4v1.4h-1.4zM214.7 214.0h1.4v1.4h-1.4zM217.3 233.4h1.4v1.4h-1.4zM219.9 252.4h1.4v1.4h-1.4zM222.5 270.4h1.4v1.4h-1.4zM225.1 288.8h1.4v1.4h-1.4zM227.7 307.9h1.4v1.4h-1.4zM230.3 327.9h1.4v1.4h-1.4zM232.9 347.8h1.4v1.4h-1.4zM235.5 366.1h1.4v1.4h-1.4zM238.1 381.8h1.4v1.4h-1.4zM240.7 395.4h1.4v1.4h-1.4zM243.3 408.1h1.4v1.4h-1.4zM245.9 420.1h1.4v1.4h-1.4z" fill="#80ffff"/><path d="M105.7 287.3 L106.2 286.9 L106.7 286.5 L107.2 286.1 L107.6 285.7 L108.1 285.3 L108.6 284.9 L109.1 284.5 L109.6 284.0 L110.0 283.6 L110.5 283.1 L111.0 282.6 L111.5 282.1 L112.0 281.6 L112.4 281.0 L112.9 280.4 L113.4 279.8 L113.9 279.1 L114.4 278.4 L114.8 277.6 L115.3 276.8 L115.8 276.0 L116.3 275.1 L116.8 274.1 L117.2 273.1 L117.7 272.0 L118.2 270.9 L118.7 269.7 L119.2 268.4 L119.6 267.1 L120.1 265.8 L120.6 264.5 L121.1 263.1 L121.6 261.7 L122.0 260.2 L122.5 258.8 L123.0 257.4 L123.5 256.0 L124.0 254.5 L124.4 253.1 L124.9 251.7 L125.4 250.3 L125.9 248.9 L126.4 247.6 L126.8 246.2 L127.3 244.7 L127.8 243.3 L128.3 241.9 L128.8 240.4 L129.2 238.9 L129.7 237.4 L130.2 235.8 L130.7 234.2 L131.2 232.6 L131.6 230.9 L132.1 229.2 L132.6 227.5 L133.1 225.8 L133.6 224.1 L134.0 222.4 L134.5 220.7 L135.0 219.1 L135.5 217.4 L136.0 215.8 L136.4 214.2 L136.9 212.6 L137.4 211.0 L137.9 209.4 L138.4 207.9 L138.8 206.3 L139.3 204.8 L139.8 203.2 L140.3 201.7 L140.8 200.2 L141.2 198.6 L141.7 197.1 L142.2 195.5 L142.7 194.0 L143.1 192.4 L143.6 190.8 L144.1 189.2 L144.6 187.5 L145.1 185.8 L145.5 184.1 L146.0 182.3 L146.5 180.5 L147.0 178.6 L147.5 176.7 L147.9 174.8 L148.4 172.7 L148.9 170.7 L149.4 168.5 L149.9 166.4 L150.3 164.1 L150.8 161.9 L151.3 159.6 L151.8 157.2 L152.3 154.8 L152.7 152.4 L153.2 149.9 L153.7 147.4 L154.2 144.8 L154.7 142.2 L155.1 139.6 L155.6 136.9 L156.1 134.2 L156.6 131.4 L157.1 128.7 L157.5 125.9 L158.0 123.2 L158.5 120.5 L159.0 117.9 L159.5 115.3 L159.9 112.8 L160.4 110.4 L160.9 108.2 L161.4 106.1 L161.9 104.2 L162.3 102.4 L162.8 100.8 L163.3 99.3 L163.8 97.8 L164.3 96.5 L164.7 95.1 L165.2 93.8 L165.7 92.5 L166.2 91.2 L166.7 89.8 L167.1 88.6 L167.6 87.3 L168.1 86.0 L168.6 84.8 L169.1 83.6 L169.5 82.4 L170.0 81.2 L170.5 80.1 L171.0 79.0 L171.5 77.9 L171.9 76.8 L172.4 75.8 L172.9 74.8 L173.4 73.8 L173.9 72.9 L174.3 72.0 L174.8 71.2 L175.3 70.4 L175.8 69.6 L176.3 68.9 L176.7 68.3 L177.2 67.7 L177.7 67.2 L178.2 66.7 L178.7 66.3 L179.1 65.9 L179.6 65.6 L180.1 65.3 L180.6 65.1 L181.1 64.9 L181.5 64.8 L182.0 64.7 L182.5 64.6 L183.0 64.6 L183.5 64.6 L183.9 64.7 L184.4 64.8 L184.9 64.9 L185.4 65.1 L185.9 65.4 L186.3 65.7 L186.8 66.1 L187.3 66.5 L187.8 67.0 L188.3 67.5 L188.7 68.1 L189.2 68.7 L189.7 69.4 L190.2 70.2 L190.7 71.1 L191.1 72.0 L191.6 73.1 L192.1 74.2 L192.6 75.5 L193.1 76.9 L193.5 78.4 L194.0 79.9 L194.5 81.6 L195.0 83.4 L195.5 85.3 L195.9 87.4 L196.4 89.6 L196.9 91.9 L197.4 94.5 L197.9 97.1 L198.3 99.8 L198.8 102.6 L199.3 105.3 L199.8 108.0 L200.3 110.6 L200.7 113.2 L201.2 115.8 L201.7 118.2 L202.2 120.7 L202.7 123.0 L203.1 125.3 L203.6 127.5 L204.1 129.7 L204.6 131.7 L205.1 133.6 L205.5 135.5 L206.0 137.3 L206.5 139.1 L207.0 141.0 L207.5 142.9 L207.9 144.8 L208.4 146.9 L208.9 149.0 L209.4 151.2 L209.9 153.5 L210.3 155.9 L210.8 158.4 L211.3 161.0 L211.8 163.7 L212.3 166.5 L212.7 169.4 L213.2 172.5 L213.7 175.6 L214.2 179.0 L214.6 182.4 L215.1 186.0 L215.6 189.7 L216.1 193.5 L216.6 197.4 L217.0 201.4 L217.5 205.4 L218.0 209.6 L218.5 213.7 L219.0 218.0 L219.4 222.2 L219.9 226.5 L220.4 230.8 L220.9 235.1 L221.4 239.4 L221.8 243.7 L222.3 247.9 L222.8 252.1 L223.3 256.3 L223.8 260.4 L224.2 264.4 L224.7 268.4 L225.2 272.2 L225.7 276.0 L226.2 279.6 L226.6 283.2 L227.1 286.7 L227.6 290.1 L228.1 293.5 L228.6 296.9 L229.0 300.2 L229.5 303.6 L230.0 306.9 L230.5 310.2 L231.0 313.6 L231.4 316.9 L231.9 320.3 L232.4 323.8 L232.9 327.3 L233.4 330.8 L233.8 334.4 L234.3 338.0 L234.8 341.6 L235.3 345.3 L235.8 349.0 L236.2 352.6 L236.7 356.3 L237.2 359.9 L237.7 363.4 L238.2 366.8 L238.6 370.1 L239.1 373.3 L239.6 376.4 L240.1 379.4 L240.6 382.3 L241.0 385.2 L241.5 388.0 L242.0 390.7 L242.5 393.4 L243.0 396.1 L243.4 398.7 L243.9 401.3 L244.4 403.9 L244.9 406.5 L245.4 409.1 L245.8 411.5 L246.3 413.9 L246.8 416.2 L247.3 418.4 L247.8 420.4 L248.2 422.4 L248.7 424.4 L249.2 426.2" fill="none" stroke="#ff33ff" stroke-width="1"/><path d="M105.7 286.1h1.4v1.4h-1.4zM108.3 283.9h1.4v1.4h-1.4zM110.9 281.3h1.4v1.4h-1.4zM113.5 278.0h1.4v1.4h-1.4zM116.1 273.4h1.4v1.4h-1.4zM118.7 267.2h1.4v1.4h-1.4zM121.3 259.8h1.4v1.4h-1.4zM123.8 252.1h1.4v1.4h-1.4zM126.4 244.5h1.4v1.4h-1.4zM129.0 236.6h1.4v1.4h-1.4zM131.6 227.7h1.4v1.4h-1.4zM134.2 218.6h1.4v1.4h-1.4zM136.8 209.8h1.4v1.4h-1.4zM139.4 201.4h1.4v1.4h-1.4zM142.0 193.1h1.4v1.4h-1.4zM144.6 184.2h1.4v1.4h-1.4zM147.2 174.2h1.4v1.4h-1.4zM149.8 162.6h1.4v1.4h-1.4zM152.4 149.8h1.4v1.4h-1.4zM155.0 135.7h1.4v1.4h-1.4zM157.6 120.9h1.4v1.4h-1.4zM160.2 107.5h1.4v1.4h-1.4zM162.8 98.0h1.4v1.4h-1.4zM165.4 90.7h1.4v1.4h-1.4zM168.0 83.8h1.4v1.4h-1.4zM170.6 77.6h1.4v1.4h-1.4zM173.2 72.1h1.4v1.4h-1.4zM175.8 67.9h1.4v1.4h-1.4zM178.4 65.3h1.4v1.4h-1.4zM181.0 64.0h1.4v1.4h-1.4zM183.6 64.0h1.4v1.4h-1.4zM186.2 65.4h1.4v1.4h-1.4zM188.8 68.4h1.4v1.4h-1.4zM191.4 73.5h1.4v1.4h-1.4zM194.0 81.6h1.4v1.4h-1.4zM196.6 93.1h1.4v1.4h-1.4zM199.2 107.7h1.4v1.4h-1.4zM201.8 121.4h1.4v1.4h-1.4zM204.4 132.9h1.4v1.4h-1.4zM206.9 143.0h1.4v1.4h-1.4zM209.5 154.8h1.4v1.4h-1.4zM212.1 169.4h1.4v1.4h-1.4zM214.7 187.7h1.4v1.4h-1.4zM217.3 209.1h1.4v1.4h-1.4zM219.9 232.1h1.4v1.4h-1.4zM222.5 255.1h1.4v1.4h-1.4zM225.1 276.4h1.4v1.4h-1.4zM227.7 295.2h1.4v1.4h-1.4zM230.3 313.3h1.4v1.4h-1.4zM232.9 332.0h1.4v1.4h-1.4zM235.5 351.7h1.4v1.4h-1.4zM238.1 370.6h1.4v1.4h-1.4zM240.7 386.6h1.4v1.4h-1.4zM243.3 401.1h1.4v1.4h-1.4zM245.9 414.6h1.4v1.4h-1.4z" fill="#ff33ff"/><path d="M105.7 299.1 L106.2 298.6 L106.7 298.1 L107.2 297.5 L107.6 297.0 L108.1 296.5 L108.6 295.9 L109.1 295.3 L109.6 294.7 L110.0 294.1 L110.5 293.5 L111.0 292.9 L111.5 292.2 L112.0 291.6 L112.4 290.9 L112.9 290.2 L113.4 289.5 L113.9 288.8 L114.4 288.1 L114.8 287.3 L115.3 286.6 L115.8 285.8 L116.3 285.0 L116.8 284.2 L117.2 283.4 L117.7 282.5 L118.2 281.6 L118.7 280.7 L119.2 279.8 L119.6 278.9 L120.1 277.9 L120.6 277.0 L121.1 276.0 L121.6 274.9 L122.0 273.9 L122.5 272.8 L123.0 271.7 L123.5 270.6 L124.0 269.5 L124.4 268.3 L124.9 267.1 L125.4 265.9 L125.9 264.7 L126.4 263.4 L126.8 262.1 L127.3 260.8 L127.8 259.4 L128.3 258.0 L128.8 256.6 L129.2 255.2 L129.7 253.7 L130.2 252.2 L130.7 250.7 L131.2 249.1 L131.6 247.6 L132.1 246.0 L132.6 244.4 L133.1 242.8 L133.6 241.1 L134.0 239.5 L134.5 237.8 L135.0 236.1 L135.5 234.4 L136.0 232.7 L136.4 230.9 L136.9 229.2 L137.4 227.4 L137.9 225.7 L138.4 223.9 L138.8 222.1 L139.3 220.3 L139.8 218.5 L140.3 216.6 L140.8 214.8 L141.2 213.0 L141.7 211.1 L142.2 209.3 L142.7 207.4 L143.1 205.6 L143.6 203.7 L144.1 201.9 L144.6 200.0 L145.1 198.1 L145.5 196.2 L146.0 194.3 L146.5 192.4 L147.0 190.5 L147.5 188.6 L147.9 186.6 L148.4 184.7 L148.9 182.7 L149.4 180.8 L149.9 178.8 L150.3 176.8 L150.8 174.8 L151.3 172.8 L151.8 170.8 L152.3 168.7 L152.7 166.7 L153.2 164.7 L153.7 162.6 L154.2 160.6 L154.7 158.6 L155.1 156.5 L155.6 154.5 L156.1 152.5 L156.6 150.5 L157.1 148.5 L157.5 146.5 L158.0 144.5 L158.5 142.5 L159.0 140.6 L159.5 138.6 L159.9 136.7 L160.4 134.8 L160.9 133.0 L161.4 131.1 L161.9 129.3 L162.3 127.5 L162.8 125.8 L163.3 124.0 L163.8 122.3 L164.3 120.7 L164.7 119.0 L165.2 117.5 L165.7 115.9 L166.2 114.4 L166.7 112.9 L167.1 111.5 L167.6 110.2 L168.1 108.8 L168.6 107.6 L169.1 106.3 L169.5 105.2 L170.0 104.0 L170.5 103.0 L171.0 102.0 L171.5 101.0 L171.9 100.1 L172.4 99.2 L172.9 98.3 L173.4 97.6 L173.9 96.8 L174.3 96.1 L174.8 95.5 L175.3 94.9 L175.8 94.3 L176.3 93.8 L176.7 93.3 L177.2 92.8 L177.7 92.4 L178.2 92.0 L178.7 91.7 L179.1 91.4 L179.6 91.1 L180.1 90.9 L180.6 90.7 L181.1 90.6 L181.5 90.5 L182.0 90.4 L182.5 90.4 L183.0 90.4 L183.5 90.4 L183.9 90.5 L184.4 90.7 L184.9 90.8 L185.4 91.1 L185.9 91.3 L186.3 91.6 L186.8 92.0 L187.3 92.4 L187.8 92.8 L188.3 93.3 L188.7 93.9 L189.2 94.5 L189.7 95.1 L190.2 95.8 L190.7 96.5 L191.1 97.3 L191.6 98.2 L192.1 99.0 L192.6 100.0 L193.1 100.9 L193.5 101.9 L194.0 103.0 L194.5 104.1 L195.0 105.2 L195.5 106.4 L195.9 107.6 L196.4 108.9 L196.9 110.2 L197.4 111.6 L197.9 113.0 L198.3 114.4 L198.8 115.9 L199.3 117.5 L199.8 119.1 L200.3 120.8 L200.7 122.5 L201.2 124.3 L201.7 126.1 L202.2 128.0 L202.7 129.9 L203.1 131.9 L203.6 133.9 L204.1 136.0 L204.6 138.1 L205.1 140.2 L205.5 142.4 L206.0 144.6 L206.5 146.8 L207.0 149.1 L207.5 151.4 L207.9 153.7 L208.4 156.0 L208.9 158.4 L209.4 160.9 L209.9 163.3 L210.3 165.8 L210.8 168.3 L211.3 170.9 L211.8 173.4 L212.3 176.1 L212.7 178.7 L213.2 181.4 L213.7 184.1 L214.2 186.9 L214.6 189.7 L215.1 192.5 L215.6 195.4 L216.1 198.3 L216.6 201.2 L217.0 204.1 L217.5 207.1 L218.0 210.1 L218.5 213.1 L219.0 216.1 L219.4 219.1 L219.9 222.1 L220.4 225.2 L220.9 228.3 L221.4 231.3 L221.8 234.4 L222.3 237.5 L222.8 240.6 L223.3 243.6 L223.8 246.7 L224.2 249.8 L224.7 252.9 L225.2 256.0 L225.7 259.0 L226.2 262.1 L226.6 265.2 L227.1 268.2 L227.6 271.3 L228.1 274.4 L228.6 277.4 L229.0 280.5 L229.5 283.5 L230.0 286.6 L230.5 289.6 L231.0 292.7 L231.4 295.7 L231.9 298.7 L232.4 301.7 L232.9 304.7 L233.4 307.7 L233.8 310.7 L234.3 313.7 L234.8 316.6 L235.3 319.6 L235.8 322.5 L236.2 325.4 L236.7 328.3 L237.2 331.2 L237.7 334.1 L238.2 337.0 L238.6 339.9 L239.1 342.7 L239.6 345.6 L240.1 348.5 L240.6 351.3 L241.0 354.2 L241.5 357.0 L242.0 359.8 L242.5 362.6 L243.0 365.4 L243.4 368.1 L243.9 370.9 L244.4 373.6 L244.9 376.3 L245.4 378.9 L245.8 381.6 L246.3 384.2 L246.8 386.7 L247.3 389.3 L247.8 391.8 L248.2 394.3 L248.7 396.8 L249.2 399.2" fill="none" stroke="#ff8033" stroke-width="1"/><path d="M105.7 297.7h1.4v1.4h-1.4zM108.3 294.7h1.4v1.4h-1.4zM110.9 291.4h1.4v1.4h-1.4zM113.5 287.7h1.4v1.4h-1.4zM116.1 283.5h1.4v1.4h-1.4zM118.7 278.7h1.4v1.4h-1.4zM121.3 273.4h1.4v1.4h-1.4zM123.8 267.3h1.4v1.4h-1.4zM126.4 260.5h1.4v1.4h-1.4zM129.0 252.9h1.4v1.4h-1.4zM131.6 244.6h1.4v1.4h-1.4zM134.2 235.6h1.4v1.4h-1.4zM136.8 226.2h1.4v1.4h-1.4zM139.4 216.5h1.4v1.4h-1.4zM142.0 206.5h1.4v1.4h-1.4zM144.6 196.4h1.4v1.4h-1.4zM147.2 186.0h1.4v1.4h-1.4zM149.8 175.4h1.4v1.4h-1.4zM152.4 164.5h1.4v1.4h-1.4zM155.0 153.4h1.4v1.4h-1.4zM157.6 142.6h1.4v1.4h-1.4zM160.2 132.3h1.4v1.4h-1.4zM162.8 122.6h1.4v1.4h-1.4zM165.4 114.0h1.4v1.4h-1.4zM168.0 106.6h1.4v1.4h-1.4zM170.6 100.6h1.4v1.4h-1.4zM173.2 96.1h1.4v1.4h-1.4zM175.8 92.8h1.4v1.4h-1.4zM178.4 90.7h1.4v1.4h-1.4zM181.0 89.7h1.4v1.4h-1.4zM183.6 89.9h1.4v1.4h-1.4zM186.2 91.3h1.4v1.4h-1.4zM188.8 94.1h1.4v1.4h-1.4zM191.4 98.3h1.4v1.4h-1.4zM194.0 103.8h1.4v1.4h-1.4zM196.6 110.5h1.4v1.4h-1.4zM199.2 118.7h1.4v1.4h-1.4zM201.8 128.4h1.4v1.4h-1.4zM204.4 139.5h1.4v1.4h-1.4zM206.9 151.6h1.4v1.4h-1.4zM209.5 164.6h1.4v1.4h-1.4zM212.1 178.6h1.4v1.4h-1.4zM214.7 193.7h1.4v1.4h-1.4zM217.3 209.5h1.4v1.4h-1.4zM219.9 225.9h1.4v1.4h-1.4zM222.5 242.6h1.4v1.4h-1.4zM225.1 259.2h1.4v1.4h-1.4zM227.7 275.8h1.4v1.4h-1.4zM230.3 292.3h1.4v1.4h-1.4zM232.9 308.6h1.4v1.4h-1.4zM235.5 324.5h1.4v1.4h-1.4zM238.1 340.2h1.4v1.4h-1.4zM240.7 355.6h1.4v1.4h-1.4zM243.3 370.6h1.4v1.4h-1.4zM245.9 385.0h1.4v1.4h-1.4z" fill="#ff8033"/></g>
<rect x="118.7" y="59.4" width="115.4" height="119.8" fill="none" stroke="#000" stroke-width="1.3"/>
<g stroke="#000" stroke-width="1.2">
<line x1="116.6" y1="63.1" x2="118.7" y2="63.1"/>
<line x1="116.6" y1="104.0" x2="118.7" y2="104.0"/>
<line x1="116.6" y1="144.9" x2="118.7" y2="144.9"/>
<line x1="164.8" y1="179.2" x2="164.8" y2="181.2"/>
</g>
<g font-size="17" text-anchor="end">
<text x="114.8" y="68.9" textLength="23.6" lengthAdjust="spacingAndGlyphs">473</text>
<text x="114.8" y="109.8" textLength="23.6" lengthAdjust="spacingAndGlyphs">430</text>
<text x="114.8" y="150.7" textLength="23.6" lengthAdjust="spacingAndGlyphs">387</text>
</g>
<text x="157.4" y="195.5" font-size="16" textLength="15.2" lengthAdjust="spacingAndGlyphs">10</text>
<text x="0" y="0" font-size="17.8" text-anchor="middle" textLength="104" lengthAdjust="spacingAndGlyphs" transform="translate(86.4,118.8) rotate(-90)">Signal intensity</text>
<text x="158.2" y="219.6" font-size="16"><tspan font-style="italic">T</tspan><tspan font-size="11" dy="4">2</tspan><tspan dy="-4">/ms</tspan></text>
<text x="229.6" y="48.7" font-size="17.6">Amplification</text>
<!-- dash box + arrow -->
<g fill="none" stroke="#000" stroke-width="1.5" stroke-dasharray="7 3.8 1.5 4.4 1.5 6.3">
<line x1="281.9" y1="65.6" x2="352.6" y2="65.6"/>
<line x1="352.6" y1="65.6" x2="352.6" y2="133.5"/>
<line x1="281.9" y1="133.5" x2="352.6" y2="133.5"/>
<line x1="281.9" y1="65.6" x2="281.9" y2="133.5"/>
<line x1="281.9" y1="65.6" x2="246" y2="65.6"/>
</g>
<path d="M236.1 65.5L247 63.2L247 67.8z" fill="#000"/>
<!-- right inset -->
<rect x="452.5" y="57.4" width="188.6" height="138.6" fill="#fff" stroke="#000" stroke-width="1.3"/>
<g stroke="#000" stroke-width="1.2">
<line x1="452.5" y1="64.7" x2="455" y2="64.7"/><line x1="452.5" y1="92.4" x2="455" y2="92.4"/><line x1="452.5" y1="120.1" x2="455" y2="120.1"/><line x1="452.5" y1="147.8" x2="455" y2="147.8"/><line x1="452.5" y1="175.5" x2="455" y2="175.5"/>
<line x1="469.9" y1="196" x2="469.9" y2="193.5"/><line x1="491.9" y1="196" x2="491.9" y2="193.5"/><line x1="513.9" y1="196" x2="513.9" y2="193.5"/><line x1="535.9" y1="196" x2="535.9" y2="193.5"/><line x1="557.9" y1="196" x2="557.9" y2="193.5"/><line x1="579.9" y1="196" x2="579.9" y2="193.5"/><line x1="601.9" y1="196" x2="601.9" y2="193.5"/><line x1="623.9" y1="196" x2="623.9" y2="193.5"/>
</g>
<g font-size="18.5" text-anchor="end">
<text x="450" y="70.8" textLength="30" lengthAdjust="spacingAndGlyphs">15.4</text><text x="450" y="98.5" textLength="30" lengthAdjust="spacingAndGlyphs">13.2</text><text x="450" y="126.2" textLength="30" lengthAdjust="spacingAndGlyphs">11.0</text><text x="450" y="153.9" textLength="21.5" lengthAdjust="spacingAndGlyphs">8.8</text><text x="450" y="181.6" textLength="21.5" lengthAdjust="spacingAndGlyphs">6.6</text>
</g>
<g font-size="18.2" text-anchor="middle">
<text x="469.9" y="212.8">0</text><text x="491.9" y="212.8">1</text><text x="513.9" y="212.8">2</text><text x="535.9" y="212.8">3</text><text x="557.9" y="212.8">4</text><text x="579.9" y="212.8">5</text><text x="601.9" y="212.8">6</text><text x="623.9" y="212.8">7</text>
</g>
<text x="0" y="0" font-size="18.2" text-anchor="middle" textLength="118.8" lengthAdjust="spacingAndGlyphs" transform="translate(414.6,126.9) rotate(-90)">Water content(g)</text>
<text x="547" y="239.6" font-size="17.4" text-anchor="middle">Cycles <tspan font-style="italic">n</tspan></text>
<polyline points="469.9,123.7 491.9,122.9 513.9,101.8 535.9,101.0 557.9,96.3 579.9,92.4 601.9,106.2 623.9,145.5" fill="none" stroke="#1010ff" stroke-width="2"/><line x1="469.9" y1="118.8" x2="469.9" y2="128.7" stroke="#1010ff" stroke-width="1.5"/><line x1="467.9" y1="118.8" x2="471.9" y2="118.8" stroke="#1010ff" stroke-width="1.5"/><line x1="467.9" y1="128.7" x2="471.9" y2="128.7" stroke="#1010ff" stroke-width="1.5"/><circle cx="469.9" cy="123.7" r="3.2" fill="#1010ff"/><circle cx="469.1" cy="122.9" r="1" fill="#8080ff"/><circle cx="491.9" cy="122.9" r="3.2" fill="#1010ff"/><circle cx="491.1" cy="122.1" r="1" fill="#8080ff"/><circle cx="513.9" cy="101.8" r="3.2" fill="#1010ff"/><circle cx="513.1" cy="101.0" r="1" fill="#8080ff"/><line x1="535.9" y1="93.8" x2="535.9" y2="108.1" stroke="#1010ff" stroke-width="1.5"/><line x1="533.9" y1="93.8" x2="537.9" y2="93.8" stroke="#1010ff" stroke-width="1.5"/><line x1="533.9" y1="108.1" x2="537.9" y2="108.1" stroke="#1010ff" stroke-width="1.5"/><circle cx="535.9" cy="101.0" r="3.2" fill="#1010ff"/><circle cx="535.1" cy="100.2" r="1" fill="#8080ff"/><line x1="557.9" y1="78.4" x2="557.9" y2="114.2" stroke="#1010ff" stroke-width="1.5"/><line x1="555.9" y1="78.4" x2="559.9" y2="78.4" stroke="#1010ff" stroke-width="1.5"/><line x1="555.9" y1="114.2" x2="559.9" y2="114.2" stroke="#1010ff" stroke-width="1.5"/><circle cx="557.9" cy="96.3" r="3.2" fill="#1010ff"/><circle cx="557.1" cy="95.5" r="1" fill="#8080ff"/><line x1="579.9" y1="71.4" x2="579.9" y2="113.4" stroke="#1010ff" stroke-width="1.5"/><line x1="577.9" y1="71.4" x2="581.9" y2="71.4" stroke="#1010ff" stroke-width="1.5"/><line x1="577.9" y1="113.4" x2="581.9" y2="113.4" stroke="#1010ff" stroke-width="1.5"/><circle cx="579.9" cy="92.4" r="3.2" fill="#1010ff"/><circle cx="579.1" cy="91.6" r="1" fill="#8080ff"/><circle cx="601.9" cy="106.2" r="3.2" fill="#1010ff"/><circle cx="601.1" cy="105.4" r="1" fill="#8080ff"/><line x1="623.9" y1="112.2" x2="623.9" y2="178.9" stroke="#1010ff" stroke-width="1.5"/><line x1="621.9" y1="112.2" x2="625.9" y2="112.2" stroke="#1010ff" stroke-width="1.5"/><line x1="621.9" y1="178.9" x2="625.9" y2="178.9" stroke="#1010ff" stroke-width="1.5"/><circle cx="623.9" cy="145.5" r="3.2" fill="#1010ff"/><circle cx="623.1" cy="144.7" r="1" fill="#8080ff"/>
<g fill="none" stroke="#000" stroke-width="1.6" stroke-dasharray="6 2.6 1.6 2.6">
<line x1="598.5" y1="108.5" x2="570" y2="154.5"/>
<line x1="619.8" y1="144.8" x2="580" y2="163.7"/>
</g>
<path d="M567.2 159.3L567.3 151.3L572.7 154.7z" fill="#000"/>
<path d="M574.6 166.4L579.3 160.4L582.1 166.2z" fill="#000"/>
<text x="493.4" y="167.3" font-size="18" textLength="71" lengthAdjust="spacingAndGlyphs">The water</text>
<text x="466.8" y="189.2" font-size="18" textLength="130.2" lengthAdjust="spacingAndGlyphs">content decreases.</text>
</svg>
</body></html>
